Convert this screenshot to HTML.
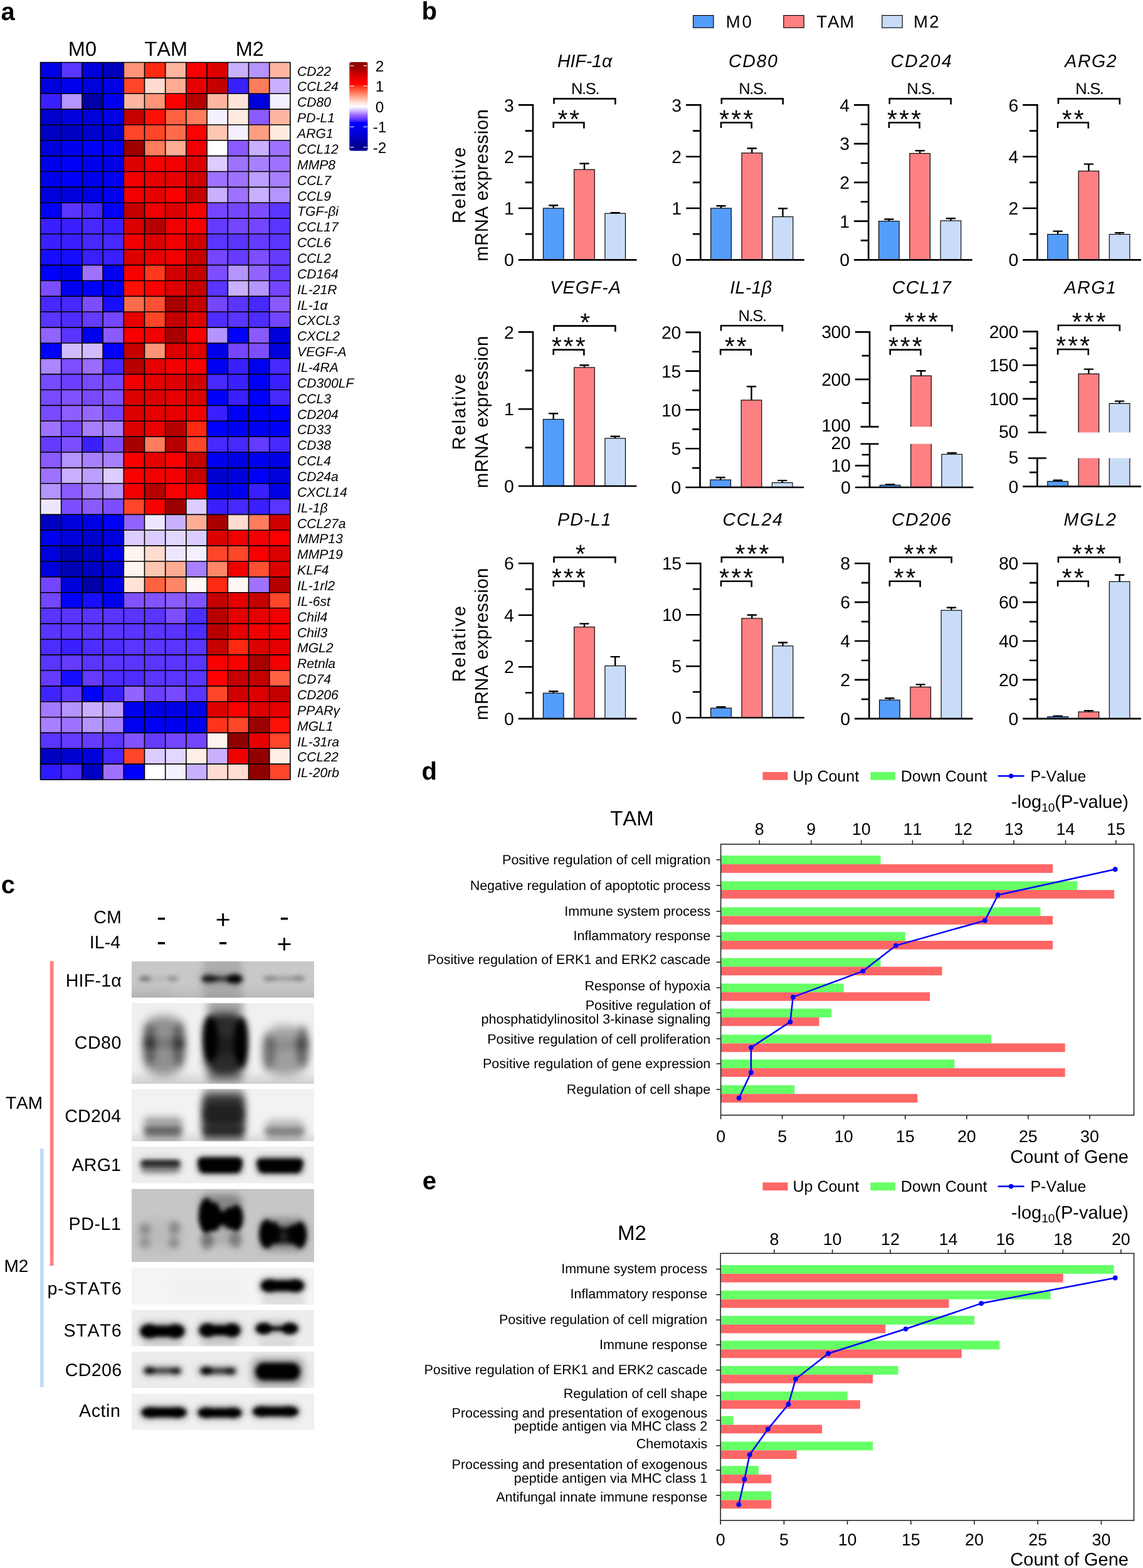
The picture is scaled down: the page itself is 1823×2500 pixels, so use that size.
<!DOCTYPE html>
<html lang="en">
<head>
<meta charset="utf-8">
<title>Figure</title>
<style>
html,body{margin:0;padding:0;background:#fff;}
body{width:1823px;height:2500px;overflow:hidden;}
svg{display:block;font-family:"Liberation Sans", sans-serif;fill:#000;font-kerning:none;text-rendering:geometricPrecision;}
</style>
</head>
<body>
<svg width="1823" height="2500" viewBox="0 0 1823 2500">
<rect x="0" y="0" width="1823" height="2500" fill="#fff"/>
<g id="panel-a">
<text x="1.6" y="32.3" font-size="40" font-weight="bold">a</text>
<text x="131.4" y="89" font-size="32.5" text-anchor="middle">M0</text>
<text x="264.8" y="89" font-size="32.5" text-anchor="middle">TAM</text>
<text x="398.3" y="89" font-size="32.5" text-anchor="middle">M2</text>
<g shape-rendering="crispEdges">
<rect x="64.5" y="99.5" width="33.7" height="25.36" fill="#0000e6"/>
<rect x="97.7" y="99.5" width="33.7" height="25.36" fill="#5a34ff"/>
<rect x="130.9" y="99.5" width="33.7" height="25.36" fill="#0000dc"/>
<rect x="164.1" y="99.5" width="33.7" height="25.36" fill="#0000bc"/>
<rect x="197.3" y="99.5" width="33.7" height="25.36" fill="#ff9478"/>
<rect x="230.5" y="99.5" width="33.7" height="25.36" fill="#ff2810"/>
<rect x="263.7" y="99.5" width="33.7" height="25.36" fill="#ffb6a0"/>
<rect x="296.9" y="99.5" width="33.7" height="25.36" fill="#f80000"/>
<rect x="330.1" y="99.5" width="33.7" height="25.36" fill="#dc0000"/>
<rect x="363.3" y="99.5" width="33.7" height="25.36" fill="#c8b0ff"/>
<rect x="396.5" y="99.5" width="33.7" height="25.36" fill="#b494ff"/>
<rect x="429.7" y="99.5" width="33.7" height="25.36" fill="#ffb6a0"/>
<rect x="64.5" y="124.36" width="33.7" height="25.36" fill="#0000dc"/>
<rect x="97.7" y="124.36" width="33.7" height="25.36" fill="#0000f0"/>
<rect x="130.9" y="124.36" width="33.7" height="25.36" fill="#0000dc"/>
<rect x="164.1" y="124.36" width="33.7" height="25.36" fill="#0000e6"/>
<rect x="197.3" y="124.36" width="33.7" height="25.36" fill="#ff4628"/>
<rect x="230.5" y="124.36" width="33.7" height="25.36" fill="#ffdccf"/>
<rect x="263.7" y="124.36" width="33.7" height="25.36" fill="#ffac94"/>
<rect x="296.9" y="124.36" width="33.7" height="25.36" fill="#e60000"/>
<rect x="330.1" y="124.36" width="33.7" height="25.36" fill="#c40000"/>
<rect x="363.3" y="124.36" width="33.7" height="25.36" fill="#3a20ff"/>
<rect x="396.5" y="124.36" width="33.7" height="25.36" fill="#ff7c5c"/>
<rect x="429.7" y="124.36" width="33.7" height="25.36" fill="#c8b0ff"/>
<rect x="64.5" y="149.22" width="33.7" height="25.36" fill="#3a20ff"/>
<rect x="97.7" y="149.22" width="33.7" height="25.36" fill="#b494ff"/>
<rect x="130.9" y="149.22" width="33.7" height="25.36" fill="#0000a6"/>
<rect x="164.1" y="149.22" width="33.7" height="25.36" fill="#0000f0"/>
<rect x="197.3" y="149.22" width="33.7" height="25.36" fill="#ffb6a0"/>
<rect x="230.5" y="149.22" width="33.7" height="25.36" fill="#ff9478"/>
<rect x="263.7" y="149.22" width="33.7" height="25.36" fill="#f80000"/>
<rect x="296.9" y="149.22" width="33.7" height="25.36" fill="#b60000"/>
<rect x="330.1" y="149.22" width="33.7" height="25.36" fill="#ffb6a0"/>
<rect x="363.3" y="149.22" width="33.7" height="25.36" fill="#ffe3d8"/>
<rect x="396.5" y="149.22" width="33.7" height="25.36" fill="#0000dc"/>
<rect x="429.7" y="149.22" width="33.7" height="25.36" fill="#f5f0ff"/>
<rect x="64.5" y="174.08" width="33.7" height="25.36" fill="#0000cf"/>
<rect x="97.7" y="174.08" width="33.7" height="25.36" fill="#0000dc"/>
<rect x="130.9" y="174.08" width="33.7" height="25.36" fill="#0000dc"/>
<rect x="164.1" y="174.08" width="33.7" height="25.36" fill="#0000e6"/>
<rect x="197.3" y="174.08" width="33.7" height="25.36" fill="#c40000"/>
<rect x="230.5" y="174.08" width="33.7" height="25.36" fill="#ff1006"/>
<rect x="263.7" y="174.08" width="33.7" height="25.36" fill="#ff6242"/>
<rect x="296.9" y="174.08" width="33.7" height="25.36" fill="#ff7c5c"/>
<rect x="330.1" y="174.08" width="33.7" height="25.36" fill="#f5f0ff"/>
<rect x="363.3" y="174.08" width="33.7" height="25.36" fill="#ffeae1"/>
<rect x="396.5" y="174.08" width="33.7" height="25.36" fill="#8a5aff"/>
<rect x="429.7" y="174.08" width="33.7" height="25.36" fill="#ffb6a0"/>
<rect x="64.5" y="198.93" width="33.7" height="25.36" fill="#0000c2"/>
<rect x="97.7" y="198.93" width="33.7" height="25.36" fill="#0000c2"/>
<rect x="130.9" y="198.93" width="33.7" height="25.36" fill="#0000cf"/>
<rect x="164.1" y="198.93" width="33.7" height="25.36" fill="#0000cf"/>
<rect x="197.3" y="198.93" width="33.7" height="25.36" fill="#ff4628"/>
<rect x="230.5" y="198.93" width="33.7" height="25.36" fill="#ff4628"/>
<rect x="263.7" y="198.93" width="33.7" height="25.36" fill="#ff6c4c"/>
<rect x="296.9" y="198.93" width="33.7" height="25.36" fill="#ff0000"/>
<rect x="330.1" y="198.93" width="33.7" height="25.36" fill="#ffc6b2"/>
<rect x="363.3" y="198.93" width="33.7" height="25.36" fill="#f5f0ff"/>
<rect x="396.5" y="198.93" width="33.7" height="25.36" fill="#ff9e83"/>
<rect x="429.7" y="198.93" width="33.7" height="25.36" fill="#ffeae1"/>
<rect x="64.5" y="223.79" width="33.7" height="25.36" fill="#0000dc"/>
<rect x="97.7" y="223.79" width="33.7" height="25.36" fill="#0000f0"/>
<rect x="130.9" y="223.79" width="33.7" height="25.36" fill="#0000ff"/>
<rect x="164.1" y="223.79" width="33.7" height="25.36" fill="#0000f0"/>
<rect x="197.3" y="223.79" width="33.7" height="25.36" fill="#9c0000"/>
<rect x="230.5" y="223.79" width="33.7" height="25.36" fill="#ff7c5c"/>
<rect x="263.7" y="223.79" width="33.7" height="25.36" fill="#ffac94"/>
<rect x="296.9" y="223.79" width="33.7" height="25.36" fill="#f00000"/>
<rect x="330.1" y="223.79" width="33.7" height="25.36" fill="#ffffff"/>
<rect x="363.3" y="223.79" width="33.7" height="25.36" fill="#8a5aff"/>
<rect x="396.5" y="223.79" width="33.7" height="25.36" fill="#c8b0ff"/>
<rect x="429.7" y="223.79" width="33.7" height="25.36" fill="#9e72ff"/>
<rect x="64.5" y="248.65" width="33.7" height="25.36" fill="#0000f0"/>
<rect x="97.7" y="248.65" width="33.7" height="25.36" fill="#0000f8"/>
<rect x="130.9" y="248.65" width="33.7" height="25.36" fill="#0000f0"/>
<rect x="164.1" y="248.65" width="33.7" height="25.36" fill="#0000e6"/>
<rect x="197.3" y="248.65" width="33.7" height="25.36" fill="#dc0000"/>
<rect x="230.5" y="248.65" width="33.7" height="25.36" fill="#f80000"/>
<rect x="263.7" y="248.65" width="33.7" height="25.36" fill="#f00000"/>
<rect x="296.9" y="248.65" width="33.7" height="25.36" fill="#dc0000"/>
<rect x="330.1" y="248.65" width="33.7" height="25.36" fill="#dcccff"/>
<rect x="363.3" y="248.65" width="33.7" height="25.36" fill="#9e72ff"/>
<rect x="396.5" y="248.65" width="33.7" height="25.36" fill="#a780ff"/>
<rect x="429.7" y="248.65" width="33.7" height="25.36" fill="#9e72ff"/>
<rect x="64.5" y="273.51" width="33.7" height="25.36" fill="#0000f0"/>
<rect x="97.7" y="273.51" width="33.7" height="25.36" fill="#0000f8"/>
<rect x="130.9" y="273.51" width="33.7" height="25.36" fill="#0000f0"/>
<rect x="164.1" y="273.51" width="33.7" height="25.36" fill="#0000f0"/>
<rect x="197.3" y="273.51" width="33.7" height="25.36" fill="#f00000"/>
<rect x="230.5" y="273.51" width="33.7" height="25.36" fill="#e60000"/>
<rect x="263.7" y="273.51" width="33.7" height="25.36" fill="#e60000"/>
<rect x="296.9" y="273.51" width="33.7" height="25.36" fill="#d00000"/>
<rect x="330.1" y="273.51" width="33.7" height="25.36" fill="#9e72ff"/>
<rect x="363.3" y="273.51" width="33.7" height="25.36" fill="#9e72ff"/>
<rect x="396.5" y="273.51" width="33.7" height="25.36" fill="#bc9fff"/>
<rect x="429.7" y="273.51" width="33.7" height="25.36" fill="#a780ff"/>
<rect x="64.5" y="298.37" width="33.7" height="25.36" fill="#0000dc"/>
<rect x="97.7" y="298.37" width="33.7" height="25.36" fill="#0000dc"/>
<rect x="130.9" y="298.37" width="33.7" height="25.36" fill="#0000e6"/>
<rect x="164.1" y="298.37" width="33.7" height="25.36" fill="#0000f0"/>
<rect x="197.3" y="298.37" width="33.7" height="25.36" fill="#f00000"/>
<rect x="230.5" y="298.37" width="33.7" height="25.36" fill="#e60000"/>
<rect x="263.7" y="298.37" width="33.7" height="25.36" fill="#f80000"/>
<rect x="296.9" y="298.37" width="33.7" height="25.36" fill="#c40000"/>
<rect x="330.1" y="298.37" width="33.7" height="25.36" fill="#c8b0ff"/>
<rect x="363.3" y="298.37" width="33.7" height="25.36" fill="#9e72ff"/>
<rect x="396.5" y="298.37" width="33.7" height="25.36" fill="#c8b0ff"/>
<rect x="429.7" y="298.37" width="33.7" height="25.36" fill="#b494ff"/>
<rect x="64.5" y="323.23" width="33.7" height="25.36" fill="#0000f8"/>
<rect x="97.7" y="323.23" width="33.7" height="25.36" fill="#5a34ff"/>
<rect x="130.9" y="323.23" width="33.7" height="25.36" fill="#4728ff"/>
<rect x="164.1" y="323.23" width="33.7" height="25.36" fill="#0000f8"/>
<rect x="197.3" y="323.23" width="33.7" height="25.36" fill="#c40000"/>
<rect x="230.5" y="323.23" width="33.7" height="25.36" fill="#f00000"/>
<rect x="263.7" y="323.23" width="33.7" height="25.36" fill="#dc0000"/>
<rect x="296.9" y="323.23" width="33.7" height="25.36" fill="#f80000"/>
<rect x="330.1" y="323.23" width="33.7" height="25.36" fill="#7446ff"/>
<rect x="363.3" y="323.23" width="33.7" height="25.36" fill="#7446ff"/>
<rect x="396.5" y="323.23" width="33.7" height="25.36" fill="#7d4eff"/>
<rect x="429.7" y="323.23" width="33.7" height="25.36" fill="#5a34ff"/>
<rect x="64.5" y="348.09" width="33.7" height="25.36" fill="#3a20ff"/>
<rect x="97.7" y="348.09" width="33.7" height="25.36" fill="#3a20ff"/>
<rect x="130.9" y="348.09" width="33.7" height="25.36" fill="#4728ff"/>
<rect x="164.1" y="348.09" width="33.7" height="25.36" fill="#3a20ff"/>
<rect x="197.3" y="348.09" width="33.7" height="25.36" fill="#dc0000"/>
<rect x="230.5" y="348.09" width="33.7" height="25.36" fill="#b60000"/>
<rect x="263.7" y="348.09" width="33.7" height="25.36" fill="#f00000"/>
<rect x="296.9" y="348.09" width="33.7" height="25.36" fill="#f80000"/>
<rect x="330.1" y="348.09" width="33.7" height="25.36" fill="#643bff"/>
<rect x="363.3" y="348.09" width="33.7" height="25.36" fill="#7446ff"/>
<rect x="396.5" y="348.09" width="33.7" height="25.36" fill="#7446ff"/>
<rect x="429.7" y="348.09" width="33.7" height="25.36" fill="#5a34ff"/>
<rect x="64.5" y="372.95" width="33.7" height="25.36" fill="#3a20ff"/>
<rect x="97.7" y="372.95" width="33.7" height="25.36" fill="#3a20ff"/>
<rect x="130.9" y="372.95" width="33.7" height="25.36" fill="#4728ff"/>
<rect x="164.1" y="372.95" width="33.7" height="25.36" fill="#4728ff"/>
<rect x="197.3" y="372.95" width="33.7" height="25.36" fill="#f00000"/>
<rect x="230.5" y="372.95" width="33.7" height="25.36" fill="#dc0000"/>
<rect x="263.7" y="372.95" width="33.7" height="25.36" fill="#f00000"/>
<rect x="296.9" y="372.95" width="33.7" height="25.36" fill="#d00000"/>
<rect x="330.1" y="372.95" width="33.7" height="25.36" fill="#5a34ff"/>
<rect x="363.3" y="372.95" width="33.7" height="25.36" fill="#5a34ff"/>
<rect x="396.5" y="372.95" width="33.7" height="25.36" fill="#643bff"/>
<rect x="429.7" y="372.95" width="33.7" height="25.36" fill="#5a34ff"/>
<rect x="64.5" y="397.8" width="33.7" height="25.36" fill="#170dff"/>
<rect x="97.7" y="397.8" width="33.7" height="25.36" fill="#170dff"/>
<rect x="130.9" y="397.8" width="33.7" height="25.36" fill="#3a20ff"/>
<rect x="164.1" y="397.8" width="33.7" height="25.36" fill="#3a20ff"/>
<rect x="197.3" y="397.8" width="33.7" height="25.36" fill="#dc0000"/>
<rect x="230.5" y="397.8" width="33.7" height="25.36" fill="#e60000"/>
<rect x="263.7" y="397.8" width="33.7" height="25.36" fill="#f00000"/>
<rect x="296.9" y="397.8" width="33.7" height="25.36" fill="#c40000"/>
<rect x="330.1" y="397.8" width="33.7" height="25.36" fill="#7446ff"/>
<rect x="363.3" y="397.8" width="33.7" height="25.36" fill="#643bff"/>
<rect x="396.5" y="397.8" width="33.7" height="25.36" fill="#7d4eff"/>
<rect x="429.7" y="397.8" width="33.7" height="25.36" fill="#643bff"/>
<rect x="64.5" y="422.66" width="33.7" height="25.36" fill="#0000ff"/>
<rect x="97.7" y="422.66" width="33.7" height="25.36" fill="#0000f0"/>
<rect x="130.9" y="422.66" width="33.7" height="25.36" fill="#9e72ff"/>
<rect x="164.1" y="422.66" width="33.7" height="25.36" fill="#0000f0"/>
<rect x="197.3" y="422.66" width="33.7" height="25.36" fill="#f80000"/>
<rect x="230.5" y="422.66" width="33.7" height="25.36" fill="#ff3a1e"/>
<rect x="263.7" y="422.66" width="33.7" height="25.36" fill="#d00000"/>
<rect x="296.9" y="422.66" width="33.7" height="25.36" fill="#c40000"/>
<rect x="330.1" y="422.66" width="33.7" height="25.36" fill="#7d4eff"/>
<rect x="363.3" y="422.66" width="33.7" height="25.36" fill="#b494ff"/>
<rect x="396.5" y="422.66" width="33.7" height="25.36" fill="#9264ff"/>
<rect x="429.7" y="422.66" width="33.7" height="25.36" fill="#643bff"/>
<rect x="64.5" y="447.52" width="33.7" height="25.36" fill="#7d4eff"/>
<rect x="97.7" y="447.52" width="33.7" height="25.36" fill="#0000f0"/>
<rect x="130.9" y="447.52" width="33.7" height="25.36" fill="#0000ff"/>
<rect x="164.1" y="447.52" width="33.7" height="25.36" fill="#0000f0"/>
<rect x="197.3" y="447.52" width="33.7" height="25.36" fill="#ff1006"/>
<rect x="230.5" y="447.52" width="33.7" height="25.36" fill="#fc0000"/>
<rect x="263.7" y="447.52" width="33.7" height="25.36" fill="#dc0000"/>
<rect x="296.9" y="447.52" width="33.7" height="25.36" fill="#c40000"/>
<rect x="330.1" y="447.52" width="33.7" height="25.36" fill="#5a34ff"/>
<rect x="363.3" y="447.52" width="33.7" height="25.36" fill="#c8b0ff"/>
<rect x="396.5" y="447.52" width="33.7" height="25.36" fill="#b494ff"/>
<rect x="429.7" y="447.52" width="33.7" height="25.36" fill="#7446ff"/>
<rect x="64.5" y="472.38" width="33.7" height="25.36" fill="#4728ff"/>
<rect x="97.7" y="472.38" width="33.7" height="25.36" fill="#4728ff"/>
<rect x="130.9" y="472.38" width="33.7" height="25.36" fill="#7d4eff"/>
<rect x="164.1" y="472.38" width="33.7" height="25.36" fill="#170dff"/>
<rect x="197.3" y="472.38" width="33.7" height="25.36" fill="#ff6c4c"/>
<rect x="230.5" y="472.38" width="33.7" height="25.36" fill="#ff5132"/>
<rect x="263.7" y="472.38" width="33.7" height="25.36" fill="#a80000"/>
<rect x="296.9" y="472.38" width="33.7" height="25.36" fill="#c40000"/>
<rect x="330.1" y="472.38" width="33.7" height="25.36" fill="#7446ff"/>
<rect x="363.3" y="472.38" width="33.7" height="25.36" fill="#5a34ff"/>
<rect x="396.5" y="472.38" width="33.7" height="25.36" fill="#4728ff"/>
<rect x="429.7" y="472.38" width="33.7" height="25.36" fill="#8a5aff"/>
<rect x="64.5" y="497.24" width="33.7" height="25.36" fill="#5a34ff"/>
<rect x="97.7" y="497.24" width="33.7" height="25.36" fill="#4d2cff"/>
<rect x="130.9" y="497.24" width="33.7" height="25.36" fill="#643bff"/>
<rect x="164.1" y="497.24" width="33.7" height="25.36" fill="#7446ff"/>
<rect x="197.3" y="497.24" width="33.7" height="25.36" fill="#e60000"/>
<rect x="230.5" y="497.24" width="33.7" height="25.36" fill="#ff4628"/>
<rect x="263.7" y="497.24" width="33.7" height="25.36" fill="#c40000"/>
<rect x="296.9" y="497.24" width="33.7" height="25.36" fill="#dc0000"/>
<rect x="330.1" y="497.24" width="33.7" height="25.36" fill="#4d2cff"/>
<rect x="363.3" y="497.24" width="33.7" height="25.36" fill="#5a34ff"/>
<rect x="396.5" y="497.24" width="33.7" height="25.36" fill="#4d2cff"/>
<rect x="429.7" y="497.24" width="33.7" height="25.36" fill="#7446ff"/>
<rect x="64.5" y="522.1" width="33.7" height="25.36" fill="#9264ff"/>
<rect x="97.7" y="522.1" width="33.7" height="25.36" fill="#5a34ff"/>
<rect x="130.9" y="522.1" width="33.7" height="25.36" fill="#0000f0"/>
<rect x="164.1" y="522.1" width="33.7" height="25.36" fill="#8a5aff"/>
<rect x="197.3" y="522.1" width="33.7" height="25.36" fill="#f80000"/>
<rect x="230.5" y="522.1" width="33.7" height="25.36" fill="#f30000"/>
<rect x="263.7" y="522.1" width="33.7" height="25.36" fill="#a80000"/>
<rect x="296.9" y="522.1" width="33.7" height="25.36" fill="#fc0000"/>
<rect x="330.1" y="522.1" width="33.7" height="25.36" fill="#b494ff"/>
<rect x="363.3" y="522.1" width="33.7" height="25.36" fill="#0000ff"/>
<rect x="396.5" y="522.1" width="33.7" height="25.36" fill="#8a5aff"/>
<rect x="429.7" y="522.1" width="33.7" height="25.36" fill="#0000dc"/>
<rect x="64.5" y="546.96" width="33.7" height="25.36" fill="#0000fc"/>
<rect x="97.7" y="546.96" width="33.7" height="25.36" fill="#d0bbff"/>
<rect x="130.9" y="546.96" width="33.7" height="25.36" fill="#d0bbff"/>
<rect x="164.1" y="546.96" width="33.7" height="25.36" fill="#0000fc"/>
<rect x="197.3" y="546.96" width="33.7" height="25.36" fill="#c40000"/>
<rect x="230.5" y="546.96" width="33.7" height="25.36" fill="#ff9478"/>
<rect x="263.7" y="546.96" width="33.7" height="25.36" fill="#dc0000"/>
<rect x="296.9" y="546.96" width="33.7" height="25.36" fill="#e00000"/>
<rect x="330.1" y="546.96" width="33.7" height="25.36" fill="#0000e6"/>
<rect x="363.3" y="546.96" width="33.7" height="25.36" fill="#7446ff"/>
<rect x="396.5" y="546.96" width="33.7" height="25.36" fill="#7d4eff"/>
<rect x="429.7" y="546.96" width="33.7" height="25.36" fill="#0000dc"/>
<rect x="64.5" y="571.82" width="33.7" height="25.36" fill="#ab86ff"/>
<rect x="97.7" y="571.82" width="33.7" height="25.36" fill="#7d4eff"/>
<rect x="130.9" y="571.82" width="33.7" height="25.36" fill="#9a6dff"/>
<rect x="164.1" y="571.82" width="33.7" height="25.36" fill="#4728ff"/>
<rect x="197.3" y="571.82" width="33.7" height="25.36" fill="#b60000"/>
<rect x="230.5" y="571.82" width="33.7" height="25.36" fill="#e60000"/>
<rect x="263.7" y="571.82" width="33.7" height="25.36" fill="#f30000"/>
<rect x="296.9" y="571.82" width="33.7" height="25.36" fill="#f80000"/>
<rect x="330.1" y="571.82" width="33.7" height="25.36" fill="#0000f0"/>
<rect x="363.3" y="571.82" width="33.7" height="25.36" fill="#3a20ff"/>
<rect x="396.5" y="571.82" width="33.7" height="25.36" fill="#0000f0"/>
<rect x="429.7" y="571.82" width="33.7" height="25.36" fill="#4728ff"/>
<rect x="64.5" y="596.67" width="33.7" height="25.36" fill="#784aff"/>
<rect x="97.7" y="596.67" width="33.7" height="25.36" fill="#6a3fff"/>
<rect x="130.9" y="596.67" width="33.7" height="25.36" fill="#784aff"/>
<rect x="164.1" y="596.67" width="33.7" height="25.36" fill="#7446ff"/>
<rect x="197.3" y="596.67" width="33.7" height="25.36" fill="#f00000"/>
<rect x="230.5" y="596.67" width="33.7" height="25.36" fill="#e60000"/>
<rect x="263.7" y="596.67" width="33.7" height="25.36" fill="#dc0000"/>
<rect x="296.9" y="596.67" width="33.7" height="25.36" fill="#d00000"/>
<rect x="330.1" y="596.67" width="33.7" height="25.36" fill="#4728ff"/>
<rect x="363.3" y="596.67" width="33.7" height="25.36" fill="#3a20ff"/>
<rect x="396.5" y="596.67" width="33.7" height="25.36" fill="#0000f8"/>
<rect x="429.7" y="596.67" width="33.7" height="25.36" fill="#3a20ff"/>
<rect x="64.5" y="621.53" width="33.7" height="25.36" fill="#784aff"/>
<rect x="97.7" y="621.53" width="33.7" height="25.36" fill="#8152ff"/>
<rect x="130.9" y="621.53" width="33.7" height="25.36" fill="#784aff"/>
<rect x="164.1" y="621.53" width="33.7" height="25.36" fill="#8152ff"/>
<rect x="197.3" y="621.53" width="33.7" height="25.36" fill="#dc0000"/>
<rect x="230.5" y="621.53" width="33.7" height="25.36" fill="#dc0000"/>
<rect x="263.7" y="621.53" width="33.7" height="25.36" fill="#e60000"/>
<rect x="296.9" y="621.53" width="33.7" height="25.36" fill="#dc0000"/>
<rect x="330.1" y="621.53" width="33.7" height="25.36" fill="#0000f8"/>
<rect x="363.3" y="621.53" width="33.7" height="25.36" fill="#3a20ff"/>
<rect x="396.5" y="621.53" width="33.7" height="25.36" fill="#0000fc"/>
<rect x="429.7" y="621.53" width="33.7" height="25.36" fill="#4728ff"/>
<rect x="64.5" y="646.39" width="33.7" height="25.36" fill="#784aff"/>
<rect x="97.7" y="646.39" width="33.7" height="25.36" fill="#8e5fff"/>
<rect x="130.9" y="646.39" width="33.7" height="25.36" fill="#9668ff"/>
<rect x="164.1" y="646.39" width="33.7" height="25.36" fill="#7446ff"/>
<rect x="197.3" y="646.39" width="33.7" height="25.36" fill="#dc0000"/>
<rect x="230.5" y="646.39" width="33.7" height="25.36" fill="#e60000"/>
<rect x="263.7" y="646.39" width="33.7" height="25.36" fill="#e60000"/>
<rect x="296.9" y="646.39" width="33.7" height="25.36" fill="#f00000"/>
<rect x="330.1" y="646.39" width="33.7" height="25.36" fill="#3a20ff"/>
<rect x="363.3" y="646.39" width="33.7" height="25.36" fill="#0000f8"/>
<rect x="396.5" y="646.39" width="33.7" height="25.36" fill="#0000f8"/>
<rect x="429.7" y="646.39" width="33.7" height="25.36" fill="#0000ff"/>
<rect x="64.5" y="671.25" width="33.7" height="25.36" fill="#9e72ff"/>
<rect x="97.7" y="671.25" width="33.7" height="25.36" fill="#784aff"/>
<rect x="130.9" y="671.25" width="33.7" height="25.36" fill="#a780ff"/>
<rect x="164.1" y="671.25" width="33.7" height="25.36" fill="#a780ff"/>
<rect x="197.3" y="671.25" width="33.7" height="25.36" fill="#dc0000"/>
<rect x="230.5" y="671.25" width="33.7" height="25.36" fill="#ec0000"/>
<rect x="263.7" y="671.25" width="33.7" height="25.36" fill="#b60000"/>
<rect x="296.9" y="671.25" width="33.7" height="25.36" fill="#ff2810"/>
<rect x="330.1" y="671.25" width="33.7" height="25.36" fill="#0000ff"/>
<rect x="363.3" y="671.25" width="33.7" height="25.36" fill="#0000f8"/>
<rect x="396.5" y="671.25" width="33.7" height="25.36" fill="#0000f3"/>
<rect x="429.7" y="671.25" width="33.7" height="25.36" fill="#0000f8"/>
<rect x="64.5" y="696.11" width="33.7" height="25.36" fill="#643bff"/>
<rect x="97.7" y="696.11" width="33.7" height="25.36" fill="#7d4eff"/>
<rect x="130.9" y="696.11" width="33.7" height="25.36" fill="#3a20ff"/>
<rect x="164.1" y="696.11" width="33.7" height="25.36" fill="#7d4eff"/>
<rect x="197.3" y="696.11" width="33.7" height="25.36" fill="#a80000"/>
<rect x="230.5" y="696.11" width="33.7" height="25.36" fill="#ff7c5c"/>
<rect x="263.7" y="696.11" width="33.7" height="25.36" fill="#b60000"/>
<rect x="296.9" y="696.11" width="33.7" height="25.36" fill="#ff4628"/>
<rect x="330.1" y="696.11" width="33.7" height="25.36" fill="#4728ff"/>
<rect x="363.3" y="696.11" width="33.7" height="25.36" fill="#4728ff"/>
<rect x="396.5" y="696.11" width="33.7" height="25.36" fill="#643bff"/>
<rect x="429.7" y="696.11" width="33.7" height="25.36" fill="#4728ff"/>
<rect x="64.5" y="720.97" width="33.7" height="25.36" fill="#8a5aff"/>
<rect x="97.7" y="720.97" width="33.7" height="25.36" fill="#b494ff"/>
<rect x="130.9" y="720.97" width="33.7" height="25.36" fill="#a780ff"/>
<rect x="164.1" y="720.97" width="33.7" height="25.36" fill="#a780ff"/>
<rect x="197.3" y="720.97" width="33.7" height="25.36" fill="#f80000"/>
<rect x="230.5" y="720.97" width="33.7" height="25.36" fill="#e60000"/>
<rect x="263.7" y="720.97" width="33.7" height="25.36" fill="#f80000"/>
<rect x="296.9" y="720.97" width="33.7" height="25.36" fill="#c40000"/>
<rect x="330.1" y="720.97" width="33.7" height="25.36" fill="#0000f0"/>
<rect x="363.3" y="720.97" width="33.7" height="25.36" fill="#0000e6"/>
<rect x="396.5" y="720.97" width="33.7" height="25.36" fill="#0000f0"/>
<rect x="429.7" y="720.97" width="33.7" height="25.36" fill="#0000e6"/>
<rect x="64.5" y="745.83" width="33.7" height="25.36" fill="#9e72ff"/>
<rect x="97.7" y="745.83" width="33.7" height="25.36" fill="#c8b0ff"/>
<rect x="130.9" y="745.83" width="33.7" height="25.36" fill="#bc9fff"/>
<rect x="164.1" y="745.83" width="33.7" height="25.36" fill="#dcccff"/>
<rect x="197.3" y="745.83" width="33.7" height="25.36" fill="#f80000"/>
<rect x="230.5" y="745.83" width="33.7" height="25.36" fill="#f30000"/>
<rect x="263.7" y="745.83" width="33.7" height="25.36" fill="#f30000"/>
<rect x="296.9" y="745.83" width="33.7" height="25.36" fill="#c40000"/>
<rect x="330.1" y="745.83" width="33.7" height="25.36" fill="#0000cf"/>
<rect x="363.3" y="745.83" width="33.7" height="25.36" fill="#0000dc"/>
<rect x="396.5" y="745.83" width="33.7" height="25.36" fill="#0000f8"/>
<rect x="429.7" y="745.83" width="33.7" height="25.36" fill="#0000dc"/>
<rect x="64.5" y="770.68" width="33.7" height="25.36" fill="#b494ff"/>
<rect x="97.7" y="770.68" width="33.7" height="25.36" fill="#8a5aff"/>
<rect x="130.9" y="770.68" width="33.7" height="25.36" fill="#a780ff"/>
<rect x="164.1" y="770.68" width="33.7" height="25.36" fill="#b494ff"/>
<rect x="197.3" y="770.68" width="33.7" height="25.36" fill="#f00000"/>
<rect x="230.5" y="770.68" width="33.7" height="25.36" fill="#b60000"/>
<rect x="263.7" y="770.68" width="33.7" height="25.36" fill="#f80000"/>
<rect x="296.9" y="770.68" width="33.7" height="25.36" fill="#fc0000"/>
<rect x="330.1" y="770.68" width="33.7" height="25.36" fill="#0000e6"/>
<rect x="363.3" y="770.68" width="33.7" height="25.36" fill="#0000f0"/>
<rect x="396.5" y="770.68" width="33.7" height="25.36" fill="#3a20ff"/>
<rect x="429.7" y="770.68" width="33.7" height="25.36" fill="#0000e6"/>
<rect x="64.5" y="795.54" width="33.7" height="25.36" fill="#eee6ff"/>
<rect x="97.7" y="795.54" width="33.7" height="25.36" fill="#7d4eff"/>
<rect x="130.9" y="795.54" width="33.7" height="25.36" fill="#8a5aff"/>
<rect x="164.1" y="795.54" width="33.7" height="25.36" fill="#7d4eff"/>
<rect x="197.3" y="795.54" width="33.7" height="25.36" fill="#ff4628"/>
<rect x="230.5" y="795.54" width="33.7" height="25.36" fill="#fc0000"/>
<rect x="263.7" y="795.54" width="33.7" height="25.36" fill="#9c0000"/>
<rect x="296.9" y="795.54" width="33.7" height="25.36" fill="#dcccff"/>
<rect x="330.1" y="795.54" width="33.7" height="25.36" fill="#3a20ff"/>
<rect x="363.3" y="795.54" width="33.7" height="25.36" fill="#4728ff"/>
<rect x="396.5" y="795.54" width="33.7" height="25.36" fill="#3a20ff"/>
<rect x="429.7" y="795.54" width="33.7" height="25.36" fill="#5a34ff"/>
<rect x="64.5" y="820.4" width="33.7" height="25.36" fill="#0000c2"/>
<rect x="97.7" y="820.4" width="33.7" height="25.36" fill="#0000dc"/>
<rect x="130.9" y="820.4" width="33.7" height="25.36" fill="#0000e6"/>
<rect x="164.1" y="820.4" width="33.7" height="25.36" fill="#0000f8"/>
<rect x="197.3" y="820.4" width="33.7" height="25.36" fill="#9264ff"/>
<rect x="230.5" y="820.4" width="33.7" height="25.36" fill="#eee6ff"/>
<rect x="263.7" y="820.4" width="33.7" height="25.36" fill="#c8b0ff"/>
<rect x="296.9" y="820.4" width="33.7" height="25.36" fill="#ffac94"/>
<rect x="330.1" y="820.4" width="33.7" height="25.36" fill="#a80000"/>
<rect x="363.3" y="820.4" width="33.7" height="25.36" fill="#ffdccf"/>
<rect x="396.5" y="820.4" width="33.7" height="25.36" fill="#ff7c5c"/>
<rect x="429.7" y="820.4" width="33.7" height="25.36" fill="#d00000"/>
<rect x="64.5" y="845.26" width="33.7" height="25.36" fill="#0000f0"/>
<rect x="97.7" y="845.26" width="33.7" height="25.36" fill="#0000dc"/>
<rect x="130.9" y="845.26" width="33.7" height="25.36" fill="#0000cf"/>
<rect x="164.1" y="845.26" width="33.7" height="25.36" fill="#0000dc"/>
<rect x="197.3" y="845.26" width="33.7" height="25.36" fill="#dcccff"/>
<rect x="230.5" y="845.26" width="33.7" height="25.36" fill="#dcccff"/>
<rect x="263.7" y="845.26" width="33.7" height="25.36" fill="#e3d6ff"/>
<rect x="296.9" y="845.26" width="33.7" height="25.36" fill="#dcccff"/>
<rect x="330.1" y="845.26" width="33.7" height="25.36" fill="#dc0000"/>
<rect x="363.3" y="845.26" width="33.7" height="25.36" fill="#f00000"/>
<rect x="396.5" y="845.26" width="33.7" height="25.36" fill="#f00000"/>
<rect x="429.7" y="845.26" width="33.7" height="25.36" fill="#fc0000"/>
<rect x="64.5" y="870.12" width="33.7" height="25.36" fill="#0000dc"/>
<rect x="97.7" y="870.12" width="33.7" height="25.36" fill="#0000b4"/>
<rect x="130.9" y="870.12" width="33.7" height="25.36" fill="#0000c2"/>
<rect x="164.1" y="870.12" width="33.7" height="25.36" fill="#0000e6"/>
<rect x="197.3" y="870.12" width="33.7" height="25.36" fill="#fff5f0"/>
<rect x="230.5" y="870.12" width="33.7" height="25.36" fill="#ffdccf"/>
<rect x="263.7" y="870.12" width="33.7" height="25.36" fill="#eee6ff"/>
<rect x="296.9" y="870.12" width="33.7" height="25.36" fill="#f5f0ff"/>
<rect x="330.1" y="870.12" width="33.7" height="25.36" fill="#ff4628"/>
<rect x="363.3" y="870.12" width="33.7" height="25.36" fill="#ff4628"/>
<rect x="396.5" y="870.12" width="33.7" height="25.36" fill="#f80000"/>
<rect x="429.7" y="870.12" width="33.7" height="25.36" fill="#dc0000"/>
<rect x="64.5" y="894.98" width="33.7" height="25.36" fill="#0000dc"/>
<rect x="97.7" y="894.98" width="33.7" height="25.36" fill="#0000b4"/>
<rect x="130.9" y="894.98" width="33.7" height="25.36" fill="#0000c2"/>
<rect x="164.1" y="894.98" width="33.7" height="25.36" fill="#0000cf"/>
<rect x="197.3" y="894.98" width="33.7" height="25.36" fill="#fff5f0"/>
<rect x="230.5" y="894.98" width="33.7" height="25.36" fill="#ffc6b2"/>
<rect x="263.7" y="894.98" width="33.7" height="25.36" fill="#ffac94"/>
<rect x="296.9" y="894.98" width="33.7" height="25.36" fill="#a780ff"/>
<rect x="330.1" y="894.98" width="33.7" height="25.36" fill="#ff8667"/>
<rect x="363.3" y="894.98" width="33.7" height="25.36" fill="#f00000"/>
<rect x="396.5" y="894.98" width="33.7" height="25.36" fill="#ff5132"/>
<rect x="429.7" y="894.98" width="33.7" height="25.36" fill="#dc0000"/>
<rect x="64.5" y="919.84" width="33.7" height="25.36" fill="#7446ff"/>
<rect x="97.7" y="919.84" width="33.7" height="25.36" fill="#0000dc"/>
<rect x="130.9" y="919.84" width="33.7" height="25.36" fill="#0000a6"/>
<rect x="164.1" y="919.84" width="33.7" height="25.36" fill="#0000e6"/>
<rect x="197.3" y="919.84" width="33.7" height="25.36" fill="#ffe3d8"/>
<rect x="230.5" y="919.84" width="33.7" height="25.36" fill="#ff6242"/>
<rect x="263.7" y="919.84" width="33.7" height="25.36" fill="#ff8667"/>
<rect x="296.9" y="919.84" width="33.7" height="25.36" fill="#fff8f5"/>
<rect x="330.1" y="919.84" width="33.7" height="25.36" fill="#ff2810"/>
<rect x="363.3" y="919.84" width="33.7" height="25.36" fill="#fff8f5"/>
<rect x="396.5" y="919.84" width="33.7" height="25.36" fill="#9e72ff"/>
<rect x="429.7" y="919.84" width="33.7" height="25.36" fill="#b60000"/>
<rect x="64.5" y="944.7" width="33.7" height="25.36" fill="#7446ff"/>
<rect x="97.7" y="944.7" width="33.7" height="25.36" fill="#0000ff"/>
<rect x="130.9" y="944.7" width="33.7" height="25.36" fill="#170dff"/>
<rect x="164.1" y="944.7" width="33.7" height="25.36" fill="#0000f0"/>
<rect x="197.3" y="944.7" width="33.7" height="25.36" fill="#8152ff"/>
<rect x="230.5" y="944.7" width="33.7" height="25.36" fill="#8152ff"/>
<rect x="263.7" y="944.7" width="33.7" height="25.36" fill="#8a5aff"/>
<rect x="296.9" y="944.7" width="33.7" height="25.36" fill="#8152ff"/>
<rect x="330.1" y="944.7" width="33.7" height="25.36" fill="#c40000"/>
<rect x="363.3" y="944.7" width="33.7" height="25.36" fill="#e60000"/>
<rect x="396.5" y="944.7" width="33.7" height="25.36" fill="#c40000"/>
<rect x="429.7" y="944.7" width="33.7" height="25.36" fill="#ff4628"/>
<rect x="64.5" y="969.55" width="33.7" height="25.36" fill="#5a34ff"/>
<rect x="97.7" y="969.55" width="33.7" height="25.36" fill="#5a34ff"/>
<rect x="130.9" y="969.55" width="33.7" height="25.36" fill="#5a34ff"/>
<rect x="164.1" y="969.55" width="33.7" height="25.36" fill="#5a34ff"/>
<rect x="197.3" y="969.55" width="33.7" height="25.36" fill="#5a34ff"/>
<rect x="230.5" y="969.55" width="33.7" height="25.36" fill="#5a34ff"/>
<rect x="263.7" y="969.55" width="33.7" height="25.36" fill="#7d4eff"/>
<rect x="296.9" y="969.55" width="33.7" height="25.36" fill="#4d2cff"/>
<rect x="330.1" y="969.55" width="33.7" height="25.36" fill="#b60000"/>
<rect x="363.3" y="969.55" width="33.7" height="25.36" fill="#e60000"/>
<rect x="396.5" y="969.55" width="33.7" height="25.36" fill="#e60000"/>
<rect x="429.7" y="969.55" width="33.7" height="25.36" fill="#f00000"/>
<rect x="64.5" y="994.41" width="33.7" height="25.36" fill="#5a34ff"/>
<rect x="97.7" y="994.41" width="33.7" height="25.36" fill="#5a34ff"/>
<rect x="130.9" y="994.41" width="33.7" height="25.36" fill="#5a34ff"/>
<rect x="164.1" y="994.41" width="33.7" height="25.36" fill="#5a34ff"/>
<rect x="197.3" y="994.41" width="33.7" height="25.36" fill="#5a34ff"/>
<rect x="230.5" y="994.41" width="33.7" height="25.36" fill="#5a34ff"/>
<rect x="263.7" y="994.41" width="33.7" height="25.36" fill="#5a34ff"/>
<rect x="296.9" y="994.41" width="33.7" height="25.36" fill="#4d2cff"/>
<rect x="330.1" y="994.41" width="33.7" height="25.36" fill="#b60000"/>
<rect x="363.3" y="994.41" width="33.7" height="25.36" fill="#e60000"/>
<rect x="396.5" y="994.41" width="33.7" height="25.36" fill="#f00000"/>
<rect x="429.7" y="994.41" width="33.7" height="25.36" fill="#f00000"/>
<rect x="64.5" y="1019.27" width="33.7" height="25.36" fill="#4d2cff"/>
<rect x="97.7" y="1019.27" width="33.7" height="25.36" fill="#3a20ff"/>
<rect x="130.9" y="1019.27" width="33.7" height="25.36" fill="#4d2cff"/>
<rect x="164.1" y="1019.27" width="33.7" height="25.36" fill="#4d2cff"/>
<rect x="197.3" y="1019.27" width="33.7" height="25.36" fill="#5a34ff"/>
<rect x="230.5" y="1019.27" width="33.7" height="25.36" fill="#5a34ff"/>
<rect x="263.7" y="1019.27" width="33.7" height="25.36" fill="#5a34ff"/>
<rect x="296.9" y="1019.27" width="33.7" height="25.36" fill="#5a34ff"/>
<rect x="330.1" y="1019.27" width="33.7" height="25.36" fill="#c40000"/>
<rect x="363.3" y="1019.27" width="33.7" height="25.36" fill="#ff2810"/>
<rect x="396.5" y="1019.27" width="33.7" height="25.36" fill="#dc0000"/>
<rect x="429.7" y="1019.27" width="33.7" height="25.36" fill="#e60000"/>
<rect x="64.5" y="1044.13" width="33.7" height="25.36" fill="#5a34ff"/>
<rect x="97.7" y="1044.13" width="33.7" height="25.36" fill="#643bff"/>
<rect x="130.9" y="1044.13" width="33.7" height="25.36" fill="#5a34ff"/>
<rect x="164.1" y="1044.13" width="33.7" height="25.36" fill="#5a34ff"/>
<rect x="197.3" y="1044.13" width="33.7" height="25.36" fill="#5a34ff"/>
<rect x="230.5" y="1044.13" width="33.7" height="25.36" fill="#5a34ff"/>
<rect x="263.7" y="1044.13" width="33.7" height="25.36" fill="#5a34ff"/>
<rect x="296.9" y="1044.13" width="33.7" height="25.36" fill="#5a34ff"/>
<rect x="330.1" y="1044.13" width="33.7" height="25.36" fill="#f80000"/>
<rect x="363.3" y="1044.13" width="33.7" height="25.36" fill="#ff0000"/>
<rect x="396.5" y="1044.13" width="33.7" height="25.36" fill="#a80000"/>
<rect x="429.7" y="1044.13" width="33.7" height="25.36" fill="#f00000"/>
<rect x="64.5" y="1068.99" width="33.7" height="25.36" fill="#643bff"/>
<rect x="97.7" y="1068.99" width="33.7" height="25.36" fill="#170dff"/>
<rect x="130.9" y="1068.99" width="33.7" height="25.36" fill="#643bff"/>
<rect x="164.1" y="1068.99" width="33.7" height="25.36" fill="#4d2cff"/>
<rect x="197.3" y="1068.99" width="33.7" height="25.36" fill="#4d2cff"/>
<rect x="230.5" y="1068.99" width="33.7" height="25.36" fill="#5a34ff"/>
<rect x="263.7" y="1068.99" width="33.7" height="25.36" fill="#5a34ff"/>
<rect x="296.9" y="1068.99" width="33.7" height="25.36" fill="#5a34ff"/>
<rect x="330.1" y="1068.99" width="33.7" height="25.36" fill="#ff0000"/>
<rect x="363.3" y="1068.99" width="33.7" height="25.36" fill="#c40000"/>
<rect x="396.5" y="1068.99" width="33.7" height="25.36" fill="#c40000"/>
<rect x="429.7" y="1068.99" width="33.7" height="25.36" fill="#ff6242"/>
<rect x="64.5" y="1093.85" width="33.7" height="25.36" fill="#4024ff"/>
<rect x="97.7" y="1093.85" width="33.7" height="25.36" fill="#5a34ff"/>
<rect x="130.9" y="1093.85" width="33.7" height="25.36" fill="#0000ff"/>
<rect x="164.1" y="1093.85" width="33.7" height="25.36" fill="#3a20ff"/>
<rect x="197.3" y="1093.85" width="33.7" height="25.36" fill="#9264ff"/>
<rect x="230.5" y="1093.85" width="33.7" height="25.36" fill="#6a3fff"/>
<rect x="263.7" y="1093.85" width="33.7" height="25.36" fill="#784aff"/>
<rect x="296.9" y="1093.85" width="33.7" height="25.36" fill="#5a34ff"/>
<rect x="330.1" y="1093.85" width="33.7" height="25.36" fill="#ff4628"/>
<rect x="363.3" y="1093.85" width="33.7" height="25.36" fill="#d00000"/>
<rect x="396.5" y="1093.85" width="33.7" height="25.36" fill="#dc0000"/>
<rect x="429.7" y="1093.85" width="33.7" height="25.36" fill="#c40000"/>
<rect x="64.5" y="1118.71" width="33.7" height="25.36" fill="#a279ff"/>
<rect x="97.7" y="1118.71" width="33.7" height="25.36" fill="#b494ff"/>
<rect x="130.9" y="1118.71" width="33.7" height="25.36" fill="#c8b0ff"/>
<rect x="164.1" y="1118.71" width="33.7" height="25.36" fill="#bc9fff"/>
<rect x="197.3" y="1118.71" width="33.7" height="25.36" fill="#0000f0"/>
<rect x="230.5" y="1118.71" width="33.7" height="25.36" fill="#0000e6"/>
<rect x="263.7" y="1118.71" width="33.7" height="25.36" fill="#0000e6"/>
<rect x="296.9" y="1118.71" width="33.7" height="25.36" fill="#0000e6"/>
<rect x="330.1" y="1118.71" width="33.7" height="25.36" fill="#dc0000"/>
<rect x="363.3" y="1118.71" width="33.7" height="25.36" fill="#fc0000"/>
<rect x="396.5" y="1118.71" width="33.7" height="25.36" fill="#dc0000"/>
<rect x="429.7" y="1118.71" width="33.7" height="25.36" fill="#e60000"/>
<rect x="64.5" y="1143.57" width="33.7" height="25.36" fill="#a780ff"/>
<rect x="97.7" y="1143.57" width="33.7" height="25.36" fill="#9e72ff"/>
<rect x="130.9" y="1143.57" width="33.7" height="25.36" fill="#b494ff"/>
<rect x="164.1" y="1143.57" width="33.7" height="25.36" fill="#a780ff"/>
<rect x="197.3" y="1143.57" width="33.7" height="25.36" fill="#0000f0"/>
<rect x="230.5" y="1143.57" width="33.7" height="25.36" fill="#0000f8"/>
<rect x="263.7" y="1143.57" width="33.7" height="25.36" fill="#0000f0"/>
<rect x="296.9" y="1143.57" width="33.7" height="25.36" fill="#0000f0"/>
<rect x="330.1" y="1143.57" width="33.7" height="25.36" fill="#ff341a"/>
<rect x="363.3" y="1143.57" width="33.7" height="25.36" fill="#ff4628"/>
<rect x="396.5" y="1143.57" width="33.7" height="25.36" fill="#9c0000"/>
<rect x="429.7" y="1143.57" width="33.7" height="25.36" fill="#ff1006"/>
<rect x="64.5" y="1168.42" width="33.7" height="25.36" fill="#5a34ff"/>
<rect x="97.7" y="1168.42" width="33.7" height="25.36" fill="#643bff"/>
<rect x="130.9" y="1168.42" width="33.7" height="25.36" fill="#643bff"/>
<rect x="164.1" y="1168.42" width="33.7" height="25.36" fill="#5a34ff"/>
<rect x="197.3" y="1168.42" width="33.7" height="25.36" fill="#8152ff"/>
<rect x="230.5" y="1168.42" width="33.7" height="25.36" fill="#643bff"/>
<rect x="263.7" y="1168.42" width="33.7" height="25.36" fill="#7446ff"/>
<rect x="296.9" y="1168.42" width="33.7" height="25.36" fill="#7446ff"/>
<rect x="330.1" y="1168.42" width="33.7" height="25.36" fill="#fff5f0"/>
<rect x="363.3" y="1168.42" width="33.7" height="25.36" fill="#900000"/>
<rect x="396.5" y="1168.42" width="33.7" height="25.36" fill="#e60000"/>
<rect x="429.7" y="1168.42" width="33.7" height="25.36" fill="#ff4628"/>
<rect x="64.5" y="1193.28" width="33.7" height="25.36" fill="#0000c2"/>
<rect x="97.7" y="1193.28" width="33.7" height="25.36" fill="#0000cf"/>
<rect x="130.9" y="1193.28" width="33.7" height="25.36" fill="#0000dc"/>
<rect x="164.1" y="1193.28" width="33.7" height="25.36" fill="#4728ff"/>
<rect x="197.3" y="1193.28" width="33.7" height="25.36" fill="#ff4628"/>
<rect x="230.5" y="1193.28" width="33.7" height="25.36" fill="#dcccff"/>
<rect x="263.7" y="1193.28" width="33.7" height="25.36" fill="#e3d6ff"/>
<rect x="296.9" y="1193.28" width="33.7" height="25.36" fill="#ffeee6"/>
<rect x="330.1" y="1193.28" width="33.7" height="25.36" fill="#c8b0ff"/>
<rect x="363.3" y="1193.28" width="33.7" height="25.36" fill="#f00000"/>
<rect x="396.5" y="1193.28" width="33.7" height="25.36" fill="#900000"/>
<rect x="429.7" y="1193.28" width="33.7" height="25.36" fill="#ffeee6"/>
<rect x="64.5" y="1218.14" width="33.7" height="25.36" fill="#2e1aff"/>
<rect x="97.7" y="1218.14" width="33.7" height="25.36" fill="#4728ff"/>
<rect x="130.9" y="1218.14" width="33.7" height="25.36" fill="#0000c2"/>
<rect x="164.1" y="1218.14" width="33.7" height="25.36" fill="#9e72ff"/>
<rect x="197.3" y="1218.14" width="33.7" height="25.36" fill="#0000fc"/>
<rect x="230.5" y="1218.14" width="33.7" height="25.36" fill="#ffffff"/>
<rect x="263.7" y="1218.14" width="33.7" height="25.36" fill="#f5f0ff"/>
<rect x="296.9" y="1218.14" width="33.7" height="25.36" fill="#c8b0ff"/>
<rect x="330.1" y="1218.14" width="33.7" height="25.36" fill="#ffdccf"/>
<rect x="363.3" y="1218.14" width="33.7" height="25.36" fill="#ffdccf"/>
<rect x="396.5" y="1218.14" width="33.7" height="25.36" fill="#900000"/>
<rect x="429.7" y="1218.14" width="33.7" height="25.36" fill="#ff4628"/>
</g>
<path d="M64.5 99.5V1243M97.7 99.5V1243M130.9 99.5V1243M164.1 99.5V1243M197.3 99.5V1243M230.5 99.5V1243M263.7 99.5V1243M296.9 99.5V1243M330.1 99.5V1243M363.3 99.5V1243M396.5 99.5V1243M429.7 99.5V1243M462.9 99.5V1243M64.5 99.5H462.9M64.5 124.36H462.9M64.5 149.22H462.9M64.5 174.08H462.9M64.5 198.93H462.9M64.5 223.79H462.9M64.5 248.65H462.9M64.5 273.51H462.9M64.5 298.37H462.9M64.5 323.23H462.9M64.5 348.09H462.9M64.5 372.95H462.9M64.5 397.8H462.9M64.5 422.66H462.9M64.5 447.52H462.9M64.5 472.38H462.9M64.5 497.24H462.9M64.5 522.1H462.9M64.5 546.96H462.9M64.5 571.82H462.9M64.5 596.67H462.9M64.5 621.53H462.9M64.5 646.39H462.9M64.5 671.25H462.9M64.5 696.11H462.9M64.5 720.97H462.9M64.5 745.83H462.9M64.5 770.68H462.9M64.5 795.54H462.9M64.5 820.4H462.9M64.5 845.26H462.9M64.5 870.12H462.9M64.5 894.98H462.9M64.5 919.84H462.9M64.5 944.7H462.9M64.5 969.55H462.9M64.5 994.41H462.9M64.5 1019.27H462.9M64.5 1044.13H462.9M64.5 1068.99H462.9M64.5 1093.85H462.9M64.5 1118.71H462.9M64.5 1143.57H462.9M64.5 1168.42H462.9M64.5 1193.28H462.9M64.5 1218.14H462.9M64.5 1243H462.9" fill="none" stroke="#000" stroke-width="1.6" stroke-linecap="square"/>
<g font-style="italic" font-size="21.1">
<text x="474.1" y="120.63">CD22</text>
<text x="474.1" y="145.49">CCL24</text>
<text x="474.1" y="170.35">CD80</text>
<text x="474.1" y="195.21">PD-L1</text>
<text x="474.1" y="220.06">ARG1</text>
<text x="474.1" y="244.92">CCL12</text>
<text x="474.1" y="269.78">MMP8</text>
<text x="474.1" y="294.64">CCL7</text>
<text x="474.1" y="319.5">CCL9</text>
<text x="474.1" y="344.36">TGF-βi</text>
<text x="474.1" y="369.22">CCL17</text>
<text x="474.1" y="394.07">CCL6</text>
<text x="474.1" y="418.93">CCL2</text>
<text x="474.1" y="443.79">CD164</text>
<text x="474.1" y="468.65">IL-21R</text>
<text x="474.1" y="493.51">IL-1α</text>
<text x="474.1" y="518.37">CXCL3</text>
<text x="474.1" y="543.23">CXCL2</text>
<text x="474.1" y="568.09">VEGF-A</text>
<text x="474.1" y="592.94">IL-4RA</text>
<text x="474.1" y="617.8">CD300LF</text>
<text x="474.1" y="642.66">CCL3</text>
<text x="474.1" y="667.52">CD204</text>
<text x="474.1" y="692.38">CD33</text>
<text x="474.1" y="717.24">CD38</text>
<text x="474.1" y="742.1">CCL4</text>
<text x="474.1" y="766.96">CD24a</text>
<text x="474.1" y="791.81">CXCL14</text>
<text x="474.1" y="816.67">IL-1β</text>
<text x="474.1" y="841.53">CCL27a</text>
<text x="474.1" y="866.39">MMP13</text>
<text x="474.1" y="891.25">MMP19</text>
<text x="474.1" y="916.11">KLF4</text>
<text x="474.1" y="940.97">IL-1rl2</text>
<text x="474.1" y="965.83">IL-6st</text>
<text x="474.1" y="990.68">Chil4</text>
<text x="474.1" y="1015.54">Chil3</text>
<text x="474.1" y="1040.4">MGL2</text>
<text x="474.1" y="1065.26">Retnla</text>
<text x="474.1" y="1090.12">CD74</text>
<text x="474.1" y="1114.98">CD206</text>
<text x="474.1" y="1139.84">PPARγ</text>
<text x="474.1" y="1164.69">MGL1</text>
<text x="474.1" y="1189.55">IL-31ra</text>
<text x="474.1" y="1214.41">CCL22</text>
<text x="474.1" y="1239.27">IL-20rb</text>
</g>
<defs><linearGradient id="cb" x1="0" y1="0" x2="0" y2="1">
<stop offset="0.0403" stop-color="#900000"/><stop offset="0.0807" stop-color="#a80000"/><stop offset="0.1211" stop-color="#c40000"/><stop offset="0.1616" stop-color="#dc0000"/><stop offset="0.2020" stop-color="#f00000"/><stop offset="0.2424" stop-color="#ff0000"/><stop offset="0.2681" stop-color="#ff2810"/><stop offset="0.2939" stop-color="#ff4628"/><stop offset="0.3196" stop-color="#ff6242"/><stop offset="0.3453" stop-color="#ff7c5c"/><stop offset="0.3710" stop-color="#ff9478"/><stop offset="0.3967" stop-color="#ffac94"/><stop offset="0.4225" stop-color="#ffc6b2"/><stop offset="0.4482" stop-color="#ffdccf"/><stop offset="0.4739" stop-color="#ffeee6"/><stop offset="0.4996" stop-color="#ffffff"/><stop offset="0.5180" stop-color="#eee6ff"/><stop offset="0.5364" stop-color="#dcccff"/><stop offset="0.5548" stop-color="#c8b0ff"/><stop offset="0.5731" stop-color="#b494ff"/><stop offset="0.5915" stop-color="#9e72ff"/><stop offset="0.6099" stop-color="#8a5aff"/><stop offset="0.6283" stop-color="#7446ff"/><stop offset="0.6466" stop-color="#5a34ff"/><stop offset="0.6650" stop-color="#3a20ff"/><stop offset="0.6834" stop-color="#0000ff"/><stop offset="0.7385" stop-color="#0000f0"/><stop offset="0.7936" stop-color="#0000dc"/><stop offset="0.8488" stop-color="#0000c2"/><stop offset="0.9039" stop-color="#0000a6"/><stop offset="0.9590" stop-color="#00008b"/>
</linearGradient><filter id="cbf" x="-20%" y="-5%" width="140%" height="110%"><feGaussianBlur stdDeviation="0.7"/></filter></defs>
<rect x="557.3" y="99" width="29.2" height="141.5" rx="3" fill="url(#cb)" filter="url(#cbf)"/>
<path d="M558.5 104.7h6M579.5 104.7h6M558.5 137.2h6M579.5 137.2h6M558.5 169.7h6M579.5 169.7h6M558.5 202.2h6M579.5 202.2h6M558.5 234.7h6M579.5 234.7h6" fill="none" stroke="#fff" stroke-width="1.6" opacity="0.75"/>
<text x="605.6" y="113.6" font-size="24.4" text-anchor="middle">2</text>
<text x="605.6" y="146.1" font-size="24.4" text-anchor="middle">1</text>
<text x="605.6" y="178.6" font-size="24.4" text-anchor="middle">0</text>
<text x="605.6" y="211.1" font-size="24.4" text-anchor="middle">-1</text>
<text x="605.6" y="243.6" font-size="24.4" text-anchor="middle">-2</text>
</g>
<g id="panel-b">
<text x="672.6" y="31.4" font-size="40" font-weight="bold">b</text>
<rect x="1105.6" y="24.6" width="32.4" height="19.6" fill="#559dfb" stroke="#000" stroke-width="1.15"/>
<text x="1157.84" y="43.6" font-size="27.6" letter-spacing="2.6">M0</text>
<rect x="1249.8" y="24.6" width="32.4" height="19.6" fill="#fe8083" stroke="#000" stroke-width="1.15"/>
<text x="1302.18" y="43.6" font-size="27.6" letter-spacing="0.91">TAM</text>
<rect x="1406.8" y="24.6" width="32.4" height="19.6" fill="#c8dcf7" stroke="#000" stroke-width="1.15"/>
<text x="1456.94" y="43.6" font-size="27.6" letter-spacing="2.31">M2</text>
<g><path d="M882.7 332V327.47M875.1 327.47H890.3" fill="none" stroke="#000" stroke-width="2.4" /><rect x="866.4" y="332" width="32.6" height="82.3" fill="#559dfb" stroke="#000" stroke-width="1.15"/><path d="M932 270.27V260.81M924.4 260.81H939.6" fill="none" stroke="#000" stroke-width="2.4" /><rect x="915.7" y="270.27" width="32.6" height="144.03" fill="#fe8083" stroke="#000" stroke-width="1.15"/><path d="M981.2 340.23V339.24M973.6 339.24H988.8" fill="none" stroke="#000" stroke-width="2.4" /><rect x="964.9" y="340.23" width="32.6" height="74.07" fill="#c8dcf7" stroke="#000" stroke-width="1.15"/><path d="M850 415.62V166.08M826.8 332H850M826.8 249.7H850M826.8 167.4H850M837.6 373.15H850M837.6 290.85H850M837.6 208.55H850M826.8 414.3H1015.5" fill="none" stroke="#000" stroke-width="2.65" /><text x="819.4" y="424.4" font-size="28.4" text-anchor="end" letter-spacing="-0.4">0</text><text x="819.4" y="342.1" font-size="28.4" text-anchor="end" letter-spacing="-0.4">1</text><text x="819.4" y="259.8" font-size="28.4" text-anchor="end" letter-spacing="-0.4">2</text><text x="819.4" y="177.5" font-size="28.4" text-anchor="end" letter-spacing="-0.4">3</text><text x="888.92" y="106.8" font-size="28.6" font-style="italic" letter-spacing="-0.1">HIF-1α</text><path d="M883.5 165.8V157.4H981.4V166.6" fill="none" stroke="#000" stroke-width="2.6" /><text x="910.95" y="150" font-size="25.6" letter-spacing="-1.38">N.S.</text><path d="M882.7 203.9V195.5H931.4V204.7" fill="none" stroke="#000" stroke-width="2.6" /><text x="889.39" y="203.5" font-size="41" letter-spacing="2.99">**</text><text transform="translate(742.4 0) rotate(-90)" x="-356.21" y="0" font-size="29.4" letter-spacing="2.19">Relative</text><text transform="translate(778.2 0) rotate(-90)" x="-416.85" y="0" font-size="29.4" letter-spacing="0.41">mRNA expression</text></g>
<g><path d="M1150 332V328.3M1142.4 328.3H1157.6" fill="none" stroke="#000" stroke-width="2.4" /><rect x="1133.7" y="332" width="32.6" height="82.3" fill="#559dfb" stroke="#000" stroke-width="1.15"/><path d="M1199.3 243.94V236.53M1191.7 236.53H1206.9" fill="none" stroke="#000" stroke-width="2.4" /><rect x="1183" y="243.94" width="32.6" height="170.36" fill="#fe8083" stroke="#000" stroke-width="1.15"/><path d="M1248.5 345.58V332.41M1240.9 332.41H1256.1" fill="none" stroke="#000" stroke-width="2.4" /><rect x="1232.2" y="345.58" width="32.6" height="68.72" fill="#c8dcf7" stroke="#000" stroke-width="1.15"/><path d="M1117.3 415.62V166.08M1094.1 332H1117.3M1094.1 249.7H1117.3M1094.1 167.4H1117.3M1104.9 373.15H1117.3M1104.9 290.85H1117.3M1104.9 208.55H1117.3M1094.1 414.3H1282.8" fill="none" stroke="#000" stroke-width="2.65" /><text x="1086.7" y="424.4" font-size="28.4" text-anchor="end" letter-spacing="-0.4">0</text><text x="1086.7" y="342.1" font-size="28.4" text-anchor="end" letter-spacing="-0.4">1</text><text x="1086.7" y="259.8" font-size="28.4" text-anchor="end" letter-spacing="-0.4">2</text><text x="1086.7" y="177.5" font-size="28.4" text-anchor="end" letter-spacing="-0.4">3</text><text x="1161.92" y="106.8" font-size="28.6" font-style="italic" letter-spacing="1.6">CD80</text><path d="M1150.8 165.8V157.4H1248.7V166.6" fill="none" stroke="#000" stroke-width="2.6" /><text x="1178.25" y="150" font-size="25.6" letter-spacing="-1.38">N.S.</text><path d="M1150 203.9V195.5H1198.7V204.7" fill="none" stroke="#000" stroke-width="2.6" /><text x="1147.19" y="203.5" font-size="41" letter-spacing="3.02">***</text></g>
<g><path d="M1417.9 352.57V349.49M1410.3 349.49H1425.5" fill="none" stroke="#000" stroke-width="2.4" /><rect x="1401.6" y="352.57" width="32.6" height="61.73" fill="#559dfb" stroke="#000" stroke-width="1.15"/><path d="M1467.2 244.56V240.24M1459.6 240.24H1474.8" fill="none" stroke="#000" stroke-width="2.4" /><rect x="1450.9" y="244.56" width="32.6" height="169.74" fill="#fe8083" stroke="#000" stroke-width="1.15"/><path d="M1516.4 351.96V348.25M1508.8 348.25H1524" fill="none" stroke="#000" stroke-width="2.4" /><rect x="1500.1" y="351.96" width="32.6" height="62.34" fill="#c8dcf7" stroke="#000" stroke-width="1.15"/><path d="M1385.2 415.62V166.08M1362 352.57H1385.2M1362 290.85H1385.2M1362 229.12H1385.2M1362 167.4H1385.2M1372.8 383.44H1385.2M1372.8 321.71H1385.2M1372.8 259.99H1385.2M1372.8 198.26H1385.2M1362 414.3H1550.7" fill="none" stroke="#000" stroke-width="2.65" /><text x="1354.6" y="424.4" font-size="28.4" text-anchor="end" letter-spacing="-0.4">0</text><text x="1354.6" y="362.68" font-size="28.4" text-anchor="end" letter-spacing="-0.4">1</text><text x="1354.6" y="300.95" font-size="28.4" text-anchor="end" letter-spacing="-0.4">2</text><text x="1354.6" y="239.22" font-size="28.4" text-anchor="end" letter-spacing="-0.4">3</text><text x="1354.6" y="177.5" font-size="28.4" text-anchor="end" letter-spacing="-0.4">4</text><text x="1420.42" y="106.8" font-size="28.6" font-style="italic" letter-spacing="2.03">CD204</text><path d="M1418.7 165.8V157.4H1516.6V166.6" fill="none" stroke="#000" stroke-width="2.6" /><text x="1446.15" y="150" font-size="25.6" letter-spacing="-1.38">N.S.</text><path d="M1417.9 203.9V195.5H1466.6V204.7" fill="none" stroke="#000" stroke-width="2.6" /><text x="1415.09" y="203.5" font-size="41" letter-spacing="3.02">***</text></g>
<g><path d="M1687.1 373.56V368.62M1679.5 368.62H1694.7" fill="none" stroke="#000" stroke-width="2.4" /><rect x="1670.8" y="373.56" width="32.6" height="40.74" fill="#559dfb" stroke="#000" stroke-width="1.15"/><path d="M1736.4 272.74V261.63M1728.8 261.63H1744" fill="none" stroke="#000" stroke-width="2.4" /><rect x="1720.1" y="272.74" width="32.6" height="141.56" fill="#fe8083" stroke="#000" stroke-width="1.15"/><path d="M1785.6 373.56V371.09M1778 371.09H1793.2" fill="none" stroke="#000" stroke-width="2.4" /><rect x="1769.3" y="373.56" width="32.6" height="40.74" fill="#c8dcf7" stroke="#000" stroke-width="1.15"/><path d="M1654.4 415.62V166.08M1631.2 332H1654.4M1631.2 249.7H1654.4M1631.2 167.4H1654.4M1642 373.15H1654.4M1642 290.85H1654.4M1642 208.55H1654.4M1631.2 414.3H1819.9" fill="none" stroke="#000" stroke-width="2.65" /><text x="1623.8" y="424.4" font-size="28.4" text-anchor="end" letter-spacing="-0.4">0</text><text x="1623.8" y="342.1" font-size="28.4" text-anchor="end" letter-spacing="-0.4">2</text><text x="1623.8" y="259.8" font-size="28.4" text-anchor="end" letter-spacing="-0.4">4</text><text x="1623.8" y="177.5" font-size="28.4" text-anchor="end" letter-spacing="-0.4">6</text><text x="1698.31" y="106.8" font-size="28.6" font-style="italic" letter-spacing="1.51">ARG2</text><path d="M1687.9 165.8V157.4H1785.8V166.6" fill="none" stroke="#000" stroke-width="2.6" /><text x="1715.35" y="150" font-size="25.6" letter-spacing="-1.38">N.S.</text><path d="M1687.1 203.9V195.5H1735.8V204.7" fill="none" stroke="#000" stroke-width="2.6" /><text x="1693.79" y="203.5" font-size="41" letter-spacing="2.99">**</text></g>
<g><path d="M882.7 668.53V659.32M875.1 659.32H890.3" fill="none" stroke="#000" stroke-width="2.4" /><rect x="866.4" y="668.53" width="32.6" height="106.47" fill="#559dfb" stroke="#000" stroke-width="1.15"/><path d="M932 585.89V582.2M924.4 582.2H939.6" fill="none" stroke="#000" stroke-width="2.4" /><rect x="915.7" y="585.89" width="32.6" height="189.11" fill="#fe8083" stroke="#000" stroke-width="1.15"/><path d="M981.2 698.86V695.79M973.6 695.79H988.8" fill="none" stroke="#000" stroke-width="2.4" /><rect x="964.9" y="698.86" width="32.6" height="76.14" fill="#c8dcf7" stroke="#000" stroke-width="1.15"/><path d="M850 776.33V528.07M826.8 652.2H850M826.8 529.4H850M837.6 713.6H850M837.6 590.8H850M826.8 775H1015.5" fill="none" stroke="#000" stroke-width="2.65" /><text x="819.4" y="785.1" font-size="28.4" text-anchor="end" letter-spacing="-0.4">0</text><text x="819.4" y="662.3" font-size="28.4" text-anchor="end" letter-spacing="-0.4">1</text><text x="819.4" y="539.5" font-size="28.4" text-anchor="end" letter-spacing="-0.4">2</text><text x="877.13" y="468.4" font-size="28.6" font-style="italic" letter-spacing="1.29">VEGF-A</text><path d="M883.5 528V519.6H981.4V528.8" fill="none" stroke="#000" stroke-width="2.6" /><text x="925.29" y="527.6" font-size="41">*</text><path d="M882.7 566V557.6H931.4V566.8" fill="none" stroke="#000" stroke-width="2.6" /><text x="879.89" y="565.6" font-size="41" letter-spacing="3.02">***</text><text transform="translate(742.4 0) rotate(-90)" x="-717.51" y="0" font-size="29.4" letter-spacing="2.19">Relative</text><text transform="translate(778.2 0) rotate(-90)" x="-778.15" y="0" font-size="29.4" letter-spacing="0.41">mRNA expression</text></g>
<g><path d="M1149.2 765.01V761.3M1141.6 761.3H1156.8" fill="none" stroke="#000" stroke-width="2.4" /><rect x="1132.9" y="765.01" width="32.6" height="11.99" fill="#559dfb" stroke="#000" stroke-width="1.15"/><path d="M1198.5 637.95V616.32M1190.9 616.32H1206.1" fill="none" stroke="#000" stroke-width="2.4" /><rect x="1182.2" y="637.95" width="32.6" height="139.05" fill="#fe8083" stroke="#000" stroke-width="1.15"/><path d="M1247.7 769.58V766.12M1240.1 766.12H1255.3" fill="none" stroke="#000" stroke-width="2.4" /><rect x="1231.4" y="769.58" width="32.6" height="7.42" fill="#c8dcf7" stroke="#000" stroke-width="1.15"/><path d="M1116.5 778.33V528.47M1093.3 715.2H1116.5M1093.3 653.4H1116.5M1093.3 591.6H1116.5M1093.3 529.8H1116.5M1104.1 746.1H1116.5M1104.1 684.3H1116.5M1104.1 622.5H1116.5M1104.1 560.7H1116.5M1093.3 777H1282" fill="none" stroke="#000" stroke-width="2.65" /><text x="1085.9" y="787.1" font-size="28.4" text-anchor="end" letter-spacing="-0.4">0</text><text x="1085.9" y="725.3" font-size="28.4" text-anchor="end" letter-spacing="-0.4">5</text><text x="1085.9" y="663.5" font-size="28.4" text-anchor="end" letter-spacing="-0.4">10</text><text x="1085.9" y="601.7" font-size="28.4" text-anchor="end" letter-spacing="-0.4">15</text><text x="1085.9" y="539.9" font-size="28.4" text-anchor="end" letter-spacing="-0.4">20</text><text x="1164.37" y="468.4" font-size="28.6" font-style="italic" letter-spacing="0.25">IL-1β</text><path d="M1150 527.6V519.2H1247.9V528.4" fill="none" stroke="#000" stroke-width="2.6" /><text x="1177.45" y="511.8" font-size="25.6" letter-spacing="-1.38">N.S.</text><path d="M1149.2 566V557.6H1197.9V566.8" fill="none" stroke="#000" stroke-width="2.6" /><text x="1155.89" y="565.6" font-size="41" letter-spacing="2.99">**</text></g>
<g><path d="M1419.7 773.53V772.5M1412.1 772.5H1427.3" fill="none" stroke="#000" stroke-width="2.4" /><rect x="1403.4" y="773.53" width="32.6" height="3.47" fill="#559dfb" stroke="#000" stroke-width="1.15"/><path d="M1469 599.18V591.25M1461.4 591.25H1476.6" fill="none" stroke="#000" stroke-width="2.4" /><rect x="1452.7" y="707.7" width="32.6" height="69.3" fill="#fe8083"/><path d="M1452.7 707.7V777M1485.3 707.7V777" fill="none" stroke="#000" stroke-width="1.15" /><rect x="1452.7" y="599.18" width="32.6" height="81.22" fill="#fe8083"/><path d="M1452.7 680.4V599.18H1485.3V680.4" fill="none" stroke="#000" stroke-width="1.15" /><path d="M1518.2 724.33V722.25M1510.6 722.25H1525.8" fill="none" stroke="#000" stroke-width="2.4" /><rect x="1501.9" y="724.33" width="32.6" height="52.67" fill="#c8dcf7" stroke="#000" stroke-width="1.15"/><path d="M1387 778.33V706.38M1363.8 742.35H1387M1372.5 707.7H1401.5M1374.6 759.67H1387M1374.6 725.03H1387M1387 680.4V527.97M1372.5 680.4H1401.5M1363.8 604.85H1387M1363.8 529.3H1387M1374.6 642.62H1387M1374.6 567.07H1387M1363.8 777H1552.5" fill="none" stroke="#000" stroke-width="2.65" /><text x="1356.4" y="787.1" font-size="28.4" text-anchor="end" letter-spacing="-0.4">0</text><text x="1356.4" y="752.45" font-size="28.4" text-anchor="end" letter-spacing="-0.4">10</text><text x="1356.4" y="716.3" font-size="28.4" text-anchor="end" letter-spacing="-0.4">20</text><text x="1356.4" y="687.5" font-size="28.4" text-anchor="end" letter-spacing="-0.4">100</text><text x="1356.4" y="614.95" font-size="28.4" text-anchor="end" letter-spacing="-0.4">200</text><text x="1356.4" y="539.4" font-size="28.4" text-anchor="end" letter-spacing="-0.4">300</text><text x="1422.82" y="468.4" font-size="28.6" font-style="italic" letter-spacing="1.29">CCL17</text><path d="M1420.5 527.6V519.2H1518.4V528.4" fill="none" stroke="#000" stroke-width="2.6" /><text x="1442.29" y="527.2" font-size="41" letter-spacing="3.02">***</text><path d="M1419.7 566V557.6H1468.4V566.8" fill="none" stroke="#000" stroke-width="2.6" /><text x="1416.89" y="565.6" font-size="41" letter-spacing="3.02">***</text></g>
<g><path d="M1687.1 767.48V765.68M1679.5 765.68H1694.7" fill="none" stroke="#000" stroke-width="2.4" /><rect x="1670.8" y="767.48" width="32.6" height="8.12" fill="#559dfb" stroke="#000" stroke-width="1.15"/><path d="M1736.4 596.18V588.67M1728.8 588.67H1744" fill="none" stroke="#000" stroke-width="2.4" /><rect x="1720.1" y="730.5" width="32.6" height="45.1" fill="#fe8083"/><path d="M1720.1 730.5V775.6M1752.7 730.5V775.6" fill="none" stroke="#000" stroke-width="1.15" /><rect x="1720.1" y="596.18" width="32.6" height="93.32" fill="#fe8083"/><path d="M1720.1 689.5V596.18H1752.7V689.5" fill="none" stroke="#000" stroke-width="1.15" /><path d="M1785.6 643.38V639.62M1778 639.62H1793.2" fill="none" stroke="#000" stroke-width="2.4" /><rect x="1769.3" y="730.5" width="32.6" height="45.1" fill="#c8dcf7"/><path d="M1769.3 730.5V775.6M1801.9 730.5V775.6" fill="none" stroke="#000" stroke-width="1.15" /><rect x="1769.3" y="643.38" width="32.6" height="46.12" fill="#c8dcf7"/><path d="M1769.3 689.5V643.38H1801.9V689.5" fill="none" stroke="#000" stroke-width="1.15" /><path d="M1654.4 776.93V729.17M1639.9 730.5H1668.9M1642 753.05H1654.4M1654.4 689.5V527.27M1639.9 689.5H1668.9M1631.2 635.87H1654.4M1631.2 582.23H1654.4M1631.2 528.6H1654.4M1642 662.68H1654.4M1642 609.05H1654.4M1642 555.42H1654.4M1631.2 775.6H1819.9" fill="none" stroke="#000" stroke-width="2.65" /><text x="1623.8" y="785.7" font-size="28.4" text-anchor="end" letter-spacing="-0.4">0</text><text x="1623.8" y="739.1" font-size="28.4" text-anchor="end" letter-spacing="-0.4">5</text><text x="1623.8" y="698.1" font-size="28.4" text-anchor="end" letter-spacing="-0.4">50</text><text x="1623.8" y="645.97" font-size="28.4" text-anchor="end" letter-spacing="-0.4">100</text><text x="1623.8" y="592.33" font-size="28.4" text-anchor="end" letter-spacing="-0.4">150</text><text x="1623.8" y="538.7" font-size="28.4" text-anchor="end" letter-spacing="-0.4">200</text><text x="1697.41" y="468.4" font-size="28.6" font-style="italic" letter-spacing="1.51">ARG1</text><path d="M1687.9 527.2V518.8H1785.8V528" fill="none" stroke="#000" stroke-width="2.6" /><text x="1709.69" y="526.8" font-size="41" letter-spacing="3.02">***</text><path d="M1687.1 565.4V557H1735.8V566.2" fill="none" stroke="#000" stroke-width="2.6" /><text x="1684.29" y="565" font-size="41" letter-spacing="3.02">***</text></g>
<g><path d="M882.7 1105.15V1102.26M875.1 1102.26H890.3" fill="none" stroke="#000" stroke-width="2.4" /><rect x="866.4" y="1105.15" width="32.6" height="40.65" fill="#559dfb" stroke="#000" stroke-width="1.15"/><path d="M932 999.72V994.35M924.4 994.35H939.6" fill="none" stroke="#000" stroke-width="2.4" /><rect x="915.7" y="999.72" width="32.6" height="146.08" fill="#fe8083" stroke="#000" stroke-width="1.15"/><path d="M981.2 1061.62V1047.17M973.6 1047.17H988.8" fill="none" stroke="#000" stroke-width="2.4" /><rect x="964.9" y="1061.62" width="32.6" height="84.18" fill="#c8dcf7" stroke="#000" stroke-width="1.15"/><path d="M850 1147.12V896.88M826.8 1063.27H850M826.8 980.73H850M826.8 898.2H850M837.6 1104.53H850M837.6 1022H850M837.6 939.47H850M826.8 1145.8H1015.5" fill="none" stroke="#000" stroke-width="2.65" /><text x="819.4" y="1155.9" font-size="28.4" text-anchor="end" letter-spacing="-0.4">0</text><text x="819.4" y="1073.37" font-size="28.4" text-anchor="end" letter-spacing="-0.4">2</text><text x="819.4" y="990.83" font-size="28.4" text-anchor="end" letter-spacing="-0.4">4</text><text x="819.4" y="908.3" font-size="28.4" text-anchor="end" letter-spacing="-0.4">6</text><text x="888.92" y="837.8" font-size="28.6" font-style="italic" letter-spacing="1.18">PD-L1</text><path d="M883.5 897V888.6H981.4V897.8" fill="none" stroke="#000" stroke-width="2.6" /><text x="917.69" y="896.6" font-size="41">*</text><path d="M882.7 935.1V926.7H931.4V935.9" fill="none" stroke="#000" stroke-width="2.6" /><text x="879.89" y="934.7" font-size="41" letter-spacing="3.02">***</text><text transform="translate(742.4 0) rotate(-90)" x="-1087.61" y="0" font-size="29.4" letter-spacing="2.19">Relative</text><text transform="translate(778.2 0) rotate(-90)" x="-1148.25" y="0" font-size="29.4" letter-spacing="0.41">mRNA expression</text></g>
<g><path d="M1150 1128.95V1127.31M1142.4 1127.31H1157.6" fill="none" stroke="#000" stroke-width="2.4" /><rect x="1133.7" y="1128.95" width="32.6" height="15.25" fill="#559dfb" stroke="#000" stroke-width="1.15"/><path d="M1199.3 985.94V980.53M1191.7 980.53H1206.9" fill="none" stroke="#000" stroke-width="2.4" /><rect x="1183" y="985.94" width="32.6" height="158.26" fill="#fe8083" stroke="#000" stroke-width="1.15"/><path d="M1248.5 1029.89V1024.48M1240.9 1024.48H1256.1" fill="none" stroke="#000" stroke-width="2.4" /><rect x="1232.2" y="1029.89" width="32.6" height="114.31" fill="#c8dcf7" stroke="#000" stroke-width="1.15"/><path d="M1117.3 1145.53V896.88M1094.1 1062.2H1117.3M1094.1 980.2H1117.3M1094.1 898.2H1117.3M1104.9 1103.2H1117.3M1104.9 1021.2H1117.3M1104.9 939.2H1117.3M1094.1 1144.2H1282.8" fill="none" stroke="#000" stroke-width="2.65" /><text x="1086.7" y="1154.3" font-size="28.4" text-anchor="end" letter-spacing="-0.4">0</text><text x="1086.7" y="1072.3" font-size="28.4" text-anchor="end" letter-spacing="-0.4">5</text><text x="1086.7" y="990.3" font-size="28.4" text-anchor="end" letter-spacing="-0.4">10</text><text x="1086.7" y="908.3" font-size="28.4" text-anchor="end" letter-spacing="-0.4">15</text><text x="1152.62" y="837.8" font-size="28.6" font-style="italic" letter-spacing="1.58">CCL24</text><path d="M1150.8 897V888.6H1248.7V897.8" fill="none" stroke="#000" stroke-width="2.6" /><text x="1172.59" y="896.6" font-size="41" letter-spacing="3.02">***</text><path d="M1150 935.1V926.7H1198.7V935.9" fill="none" stroke="#000" stroke-width="2.6" /><text x="1147.19" y="934.7" font-size="41" letter-spacing="3.02">***</text></g>
<g><path d="M1418.9 1116.09V1113.3M1411.3 1113.3H1426.5" fill="none" stroke="#000" stroke-width="2.4" /><rect x="1402.6" y="1116.09" width="32.6" height="29.71" fill="#559dfb" stroke="#000" stroke-width="1.15"/><path d="M1468.2 1095.35V1091.33M1460.6 1091.33H1475.8" fill="none" stroke="#000" stroke-width="2.4" /><rect x="1451.9" y="1095.35" width="32.6" height="50.45" fill="#fe8083" stroke="#000" stroke-width="1.15"/><path d="M1517.4 973.1V968.77M1509.8 968.77H1525" fill="none" stroke="#000" stroke-width="2.4" /><rect x="1501.1" y="973.1" width="32.6" height="172.7" fill="#c8dcf7" stroke="#000" stroke-width="1.15"/><path d="M1386.2 1147.12V896.88M1363 1083.9H1386.2M1363 1022H1386.2M1363 960.1H1386.2M1363 898.2H1386.2M1373.8 1114.85H1386.2M1373.8 1052.95H1386.2M1373.8 991.05H1386.2M1373.8 929.15H1386.2M1363 1145.8H1551.7" fill="none" stroke="#000" stroke-width="2.65" /><text x="1355.6" y="1155.9" font-size="28.4" text-anchor="end" letter-spacing="-0.4">0</text><text x="1355.6" y="1094" font-size="28.4" text-anchor="end" letter-spacing="-0.4">2</text><text x="1355.6" y="1032.1" font-size="28.4" text-anchor="end" letter-spacing="-0.4">4</text><text x="1355.6" y="970.2" font-size="28.4" text-anchor="end" letter-spacing="-0.4">6</text><text x="1355.6" y="908.3" font-size="28.4" text-anchor="end" letter-spacing="-0.4">8</text><text x="1421.92" y="837.8" font-size="28.6" font-style="italic" letter-spacing="1.46">CD206</text><path d="M1419.7 897V888.6H1517.6V897.8" fill="none" stroke="#000" stroke-width="2.6" /><text x="1441.49" y="896.6" font-size="41" letter-spacing="3.02">***</text><path d="M1418.9 935.1V926.7H1467.6V935.9" fill="none" stroke="#000" stroke-width="2.6" /><text x="1425.59" y="934.7" font-size="41" letter-spacing="2.99">**</text></g>
<g><path d="M1687.1 1142.7V1141.62M1679.5 1141.62H1694.7" fill="none" stroke="#000" stroke-width="2.4" /><rect x="1670.8" y="1142.7" width="32.6" height="3.1" fill="#559dfb" stroke="#000" stroke-width="1.15"/><path d="M1736.4 1134.97V1133.11M1728.8 1133.11H1744" fill="none" stroke="#000" stroke-width="2.4" /><rect x="1720.1" y="1134.97" width="32.6" height="10.83" fill="#fe8083" stroke="#000" stroke-width="1.15"/><path d="M1785.6 927.29V916.77M1778 916.77H1793.2" fill="none" stroke="#000" stroke-width="2.4" /><rect x="1769.3" y="927.29" width="32.6" height="218.51" fill="#c8dcf7" stroke="#000" stroke-width="1.15"/><path d="M1654.4 1147.12V896.88M1631.2 1083.9H1654.4M1631.2 1022H1654.4M1631.2 960.1H1654.4M1631.2 898.2H1654.4M1642 1114.85H1654.4M1642 1052.95H1654.4M1642 991.05H1654.4M1642 929.15H1654.4M1631.2 1145.8H1819.9" fill="none" stroke="#000" stroke-width="2.65" /><text x="1623.8" y="1155.9" font-size="28.4" text-anchor="end" letter-spacing="-0.4">0</text><text x="1623.8" y="1094" font-size="28.4" text-anchor="end" letter-spacing="-0.4">20</text><text x="1623.8" y="1032.1" font-size="28.4" text-anchor="end" letter-spacing="-0.4">40</text><text x="1623.8" y="970.2" font-size="28.4" text-anchor="end" letter-spacing="-0.4">60</text><text x="1623.8" y="908.3" font-size="28.4" text-anchor="end" letter-spacing="-0.4">80</text><text x="1696.62" y="837.8" font-size="28.6" font-style="italic" letter-spacing="1.77">MGL2</text><path d="M1687.9 897V888.6H1785.8V897.8" fill="none" stroke="#000" stroke-width="2.6" /><text x="1709.69" y="896.6" font-size="41" letter-spacing="3.02">***</text><path d="M1687.1 935.1V926.7H1735.8V935.9" fill="none" stroke="#000" stroke-width="2.6" /><text x="1693.79" y="934.7" font-size="41" letter-spacing="2.99">**</text></g>
</g>
<g id="panel-c">
<defs>
<filter id="bl3" x="-50%" y="-50%" width="200%" height="200%" color-interpolation-filters="sRGB"><feGaussianBlur stdDeviation="3"/></filter><filter id="bl3_5" x="-50%" y="-50%" width="200%" height="200%" color-interpolation-filters="sRGB"><feGaussianBlur stdDeviation="3.5"/></filter><filter id="bl4" x="-50%" y="-50%" width="200%" height="200%" color-interpolation-filters="sRGB"><feGaussianBlur stdDeviation="4"/></filter><filter id="bl5" x="-50%" y="-50%" width="200%" height="200%" color-interpolation-filters="sRGB"><feGaussianBlur stdDeviation="5"/></filter><filter id="bl6" x="-50%" y="-50%" width="200%" height="200%" color-interpolation-filters="sRGB"><feGaussianBlur stdDeviation="6"/></filter><filter id="bl7" x="-50%" y="-50%" width="200%" height="200%" color-interpolation-filters="sRGB"><feGaussianBlur stdDeviation="7"/></filter><filter id="bl8" x="-50%" y="-50%" width="200%" height="200%" color-interpolation-filters="sRGB"><feGaussianBlur stdDeviation="8"/></filter>
</defs>
<text x="1.8" y="1423.6" font-size="40" font-weight="bold">c</text>
<text x="149.15" y="1471.5" font-size="28.6" letter-spacing="0.12">CM</text>
<text x="142.86" y="1512.2" font-size="28.6" letter-spacing="0.03">IL-4</text>
<text x="249.64" y="1477.3" font-size="46">-</text>
<text x="343.64" y="1480.03" font-size="41">+</text>
<text x="445.84" y="1477.3" font-size="46">-</text>
<text x="249.64" y="1515.8" font-size="46">-</text>
<text x="347.94" y="1515.8" font-size="46">-</text>
<text x="441.54" y="1518.53" font-size="41">+</text>
<rect x="79.7" y="1532.5" width="5.8" height="485.5" fill="#fe8083"/>
<rect x="64" y="1831.2" width="5.6" height="380.3" fill="#c1d9fa"/>
<text x="9" y="1768.1" font-size="28">TAM</text>
<text x="6.5" y="2027.8" font-size="28">M2</text>
<text x="104.65" y="1572.5" font-size="28.6" letter-spacing="0.23">HIF-1α</text>
<text x="118.85" y="1671.5" font-size="28.6" letter-spacing="0.48">CD80</text>
<text x="103.15" y="1789.2" font-size="28.6" letter-spacing="0.24">CD204</text>
<text x="114.54" y="1866.8" font-size="28.6" letter-spacing="0.19">ARG1</text>
<text x="109.55" y="1961" font-size="28.6" letter-spacing="0.59">PD-L1</text>
<text x="75.56" y="2063.7" font-size="28.6" letter-spacing="0.6">p-STAT6</text>
<text x="101.4" y="2131.2" font-size="28.6" letter-spacing="0.79">STAT6</text>
<text x="103.65" y="2194.2" font-size="28.6" letter-spacing="0.4">CD206</text>
<text x="126.04" y="2259" font-size="28.6" letter-spacing="0.56">Actin</text>
<clipPath id="bp1"><rect x="209.8" y="1532.5" width="291.2" height="58.2"/></clipPath>
<g clip-path="url(#bp1)">
<rect x="209.8" y="1532.5" width="291.2" height="58.2" fill="#c8c8c8"/>
<g filter="url(#bl6)">
<rect x="324" y="1516" width="62" height="90" rx="6" fill="rgba(0,0,0,0.13)"/>
</g>
<g filter="url(#bl8)">
<rect x="190" y="1585" width="330" height="34" rx="17" fill="rgba(0,0,0,0.1)"/>
<rect x="205" y="1570" width="70" height="30" rx="15" fill="rgba(0,0,0,0.04)"/>
</g>
<g filter="url(#bl3_5)">
<ellipse cx="231" cy="1560.3" rx="10" ry="4.4" fill="rgba(0,0,0,0.36)"/>
<ellipse cx="276" cy="1560.3" rx="9" ry="4.2" fill="rgba(0,0,0,0.24)"/>
<rect x="226" y="1557.8" width="56" height="5" rx="2.5" fill="rgba(0,0,0,0.1)"/>
<rect x="323" y="1556.5" width="60" height="8" rx="4" fill="rgba(0,0,0,0.66)"/>
<ellipse cx="334" cy="1560.5" rx="13" ry="6.5" fill="rgba(0,0,0,0.62)"/>
<ellipse cx="374" cy="1560.8" rx="13" ry="7.6" fill="rgba(0,0,0,0.95)"/>
</g>
<g filter="url(#bl6)">
<rect x="317" y="1550" width="72" height="22" rx="11" fill="rgba(0,0,0,0.1)"/>
</g>
<g filter="url(#bl3_5)">
<rect x="421" y="1557.05" width="64" height="6.5" rx="3.25" fill="rgba(0,0,0,0.24)"/>
<ellipse cx="430" cy="1560.3" rx="10" ry="4.4" fill="rgba(0,0,0,0.16)"/>
<ellipse cx="477" cy="1560" rx="10" ry="4.4" fill="rgba(0,0,0,0.16)"/>
</g>
</g>
<clipPath id="bp2"><rect x="209.8" y="1599.2" width="291.2" height="128.8"/></clipPath>
<g clip-path="url(#bp2)">
<rect x="209.8" y="1599.2" width="291.2" height="128.8" fill="#f0f0f0"/>
<g filter="url(#bl8)">
<rect x="190" y="1717" width="330" height="56" rx="28" fill="rgba(0,0,0,0.13)"/>
<rect x="231" y="1620" width="60" height="94" rx="22" fill="rgba(0,0,0,0.4)"/>
</g>
<g filter="url(#bl6)">
<ellipse cx="238" cy="1665" rx="10" ry="34" fill="rgba(0,0,0,0.42)"/>
<ellipse cx="286" cy="1665" rx="10" ry="36" fill="rgba(0,0,0,0.42)"/>
</g>
<g filter="url(#bl5)">
<ellipse cx="238" cy="1663" rx="8" ry="9" fill="rgba(0,0,0,0.3)"/>
<ellipse cx="286" cy="1664" rx="8" ry="9" fill="rgba(0,0,0,0.3)"/>
</g>
<g filter="url(#bl6)">
<rect x="230" y="1656" width="62" height="14" rx="7" fill="rgba(0,0,0,0.18)"/>
</g>
<g filter="url(#bl7)">
<rect x="327" y="1615" width="64" height="100" rx="22" fill="rgba(0,0,0,0.82)"/>
</g>
<g filter="url(#bl5)">
<ellipse cx="336" cy="1657" rx="12" ry="38" fill="rgba(0,0,0,1)"/>
<ellipse cx="384" cy="1662" rx="11" ry="40" fill="rgba(0,0,0,1)"/>
<rect x="339" y="1653" width="40" height="30" rx="15" fill="rgba(0,0,0,0.3)"/>
</g>
<g filter="url(#bl6)">
<rect x="329" y="1592" width="60" height="28" rx="14" fill="rgba(0,0,0,0.3)"/>
<rect x="329" y="1707" width="60" height="20" rx="10" fill="rgba(0,0,0,0.3)"/>
</g>
<g filter="url(#bl8)">
<rect x="424" y="1636" width="62" height="78" rx="22" fill="rgba(0,0,0,0.34)"/>
</g>
<g filter="url(#bl6)">
<ellipse cx="428" cy="1677" rx="10" ry="30" fill="rgba(0,0,0,0.36)"/>
<ellipse cx="483" cy="1669" rx="10" ry="34" fill="rgba(0,0,0,0.44)"/>
</g>
<g filter="url(#bl5)">
<ellipse cx="483.5" cy="1664" rx="8" ry="10" fill="rgba(0,0,0,0.22)"/>
</g>
<g filter="url(#bl6)">
<rect x="425" y="1659" width="60" height="14" rx="7" fill="rgba(0,0,0,0.12)"/>
</g>
</g>
<clipPath id="bp3"><rect x="209.8" y="1736.2" width="291.2" height="83.4"/></clipPath>
<g clip-path="url(#bp3)">
<rect x="209.8" y="1736.2" width="291.2" height="83.4" fill="#f2f2f2"/>
<g filter="url(#bl8)">
<rect x="190" y="1813" width="330" height="50" rx="25" fill="rgba(0,0,0,0.14)"/>
</g>
<g filter="url(#bl5)">
<rect x="230" y="1798" width="60" height="10" rx="5" fill="rgba(0,0,0,0.46)"/>
</g>
<g filter="url(#bl6)">
<rect x="229" y="1781" width="62" height="32" rx="8" fill="rgba(0,0,0,0.34)"/>
</g>
<g filter="url(#bl5)">
<rect x="230" y="1811" width="60" height="10" rx="5" fill="rgba(0,0,0,0.18)"/>
</g>
<g filter="url(#bl6)">
<rect x="321.5" y="1745" width="70" height="66" rx="12" fill="rgba(0,0,0,0.76)"/>
</g>
<g filter="url(#bl5)">
<rect x="323.5" y="1759" width="66" height="34" rx="17" fill="rgba(0,0,0,0.42)"/>
<rect x="323.5" y="1799" width="66" height="12" rx="6" fill="rgba(0,0,0,0.45)"/>
</g>
<g filter="url(#bl6)">
<rect x="322.5" y="1733" width="68" height="18" rx="9" fill="rgba(0,0,0,0.3)"/>
</g>
<g filter="url(#bl5)">
<rect x="322.5" y="1808" width="68" height="14" rx="7" fill="rgba(0,0,0,0.32)"/>
<rect x="422" y="1799.5" width="64" height="9" rx="4.5" fill="rgba(0,0,0,0.4)"/>
</g>
<g filter="url(#bl6)">
<rect x="422" y="1785" width="64" height="28" rx="14" fill="rgba(0,0,0,0.24)"/>
</g>
<g filter="url(#bl5)">
<rect x="424" y="1811" width="60" height="10" rx="5" fill="rgba(0,0,0,0.14)"/>
</g>
</g>
<clipPath id="bp4"><rect x="209.8" y="1828" width="291.2" height="58.8"/></clipPath>
<g clip-path="url(#bp4)">
<rect x="209.8" y="1828" width="291.2" height="58.8" fill="#eeeeee"/>
<g filter="url(#bl3_5)">
<rect x="225" y="1850.5" width="62" height="8" rx="4" fill="rgba(0,0,0,0.85)"/>
</g>
<g filter="url(#bl4)">
<rect x="225" y="1851" width="62" height="18" rx="6" fill="rgba(0,0,0,0.45)"/>
</g>
<g filter="url(#bl6)">
<rect x="221" y="1843" width="70" height="30" rx="15" fill="rgba(0,0,0,0.12)"/>
</g>
<g filter="url(#bl3)">
<rect x="317" y="1845.5" width="68" height="25" rx="9" fill="rgba(0,0,0,1)"/>
<rect x="315.5" y="1845.5" width="71" height="17" rx="7" fill="rgba(0,0,0,1)"/>
</g>
<g filter="url(#bl5)">
<rect x="313" y="1842" width="76" height="32" rx="10" fill="rgba(0,0,0,0.28)"/>
</g>
<g filter="url(#bl3)">
<rect x="411.5" y="1847.5" width="70" height="23" rx="9" fill="rgba(0,0,0,1)"/>
<rect x="409.5" y="1847.5" width="74" height="15" rx="7" fill="rgba(0,0,0,1)"/>
</g>
<g filter="url(#bl5)">
<rect x="406.5" y="1842" width="80" height="32" rx="10" fill="rgba(0,0,0,0.28)"/>
</g>
</g>
<clipPath id="bp5"><rect x="209.8" y="1895.5" width="291.2" height="116.5"/></clipPath>
<g clip-path="url(#bp5)">
<rect x="209.8" y="1895.5" width="291.2" height="116.5" fill="#c6c6c6"/>
<g filter="url(#bl5)">
<ellipse cx="231" cy="1960" rx="9" ry="10" fill="rgba(0,0,0,0.26)"/>
<ellipse cx="278.5" cy="1958" rx="9" ry="11" fill="rgba(0,0,0,0.28)"/>
<ellipse cx="231" cy="1981.5" rx="9" ry="9" fill="rgba(0,0,0,0.22)"/>
<ellipse cx="277.5" cy="1981.5" rx="9" ry="9" fill="rgba(0,0,0,0.26)"/>
</g>
<g filter="url(#bl8)">
<rect x="219" y="1945" width="70" height="50" rx="25" fill="rgba(0,0,0,0.05)"/>
</g>
<g filter="url(#bl3_5)">
<ellipse cx="329.5" cy="1938.5" rx="12.5" ry="28" fill="rgba(0,0,0,1)"/>
<ellipse cx="376.5" cy="1942" rx="11" ry="21" fill="rgba(0,0,0,1)"/>
<rect x="331" y="1931" width="44" height="22" rx="11" fill="rgba(0,0,0,1)"/>
<ellipse cx="341" cy="1940" rx="12" ry="23" fill="rgba(0,0,0,1)"/>
<ellipse cx="366" cy="1942" rx="10" ry="17" fill="rgba(0,0,0,1)"/>
</g>
<g filter="url(#bl6)">
<rect x="320" y="1904" width="66" height="56" rx="14" fill="rgba(0,0,0,0.32)"/>
</g>
<g filter="url(#bl5)">
<ellipse cx="330" cy="1978" rx="10" ry="14" fill="rgba(0,0,0,0.36)"/>
<ellipse cx="376" cy="1976" rx="10" ry="14" fill="rgba(0,0,0,0.32)"/>
</g>
<g filter="url(#bl6)">
<rect x="328" y="1965" width="50" height="20" rx="10" fill="rgba(0,0,0,0.12)"/>
</g>
<g filter="url(#bl3_5)">
<ellipse cx="425.5" cy="1967.5" rx="12" ry="23" fill="rgba(0,0,0,1)"/>
<ellipse cx="478" cy="1969" rx="11" ry="21" fill="rgba(0,0,0,1)"/>
<ellipse cx="437" cy="1966" rx="10" ry="18" fill="rgba(0,0,0,0.95)"/>
<ellipse cx="467" cy="1968" rx="9" ry="16" fill="rgba(0,0,0,0.9)"/>
<rect x="427" y="1955.5" width="50" height="11" rx="5.5" fill="rgba(0,0,0,0.78)"/>
<rect x="427" y="1972.5" width="50" height="11" rx="5.5" fill="rgba(0,0,0,0.75)"/>
<rect x="432" y="1962" width="40" height="14" rx="7" fill="rgba(0,0,0,0.62)"/>
</g>
<g filter="url(#bl6)">
<rect x="415" y="1942" width="74" height="52" rx="14" fill="rgba(0,0,0,0.3)"/>
</g>
</g>
<clipPath id="bp6"><rect x="209.8" y="2021.6" width="291.2" height="58.4"/></clipPath>
<g clip-path="url(#bp6)">
<rect x="209.8" y="2021.6" width="291.2" height="58.4" fill="#f4f4f4"/>
<g filter="url(#bl3)">
<rect x="419.07" y="2041.18" width="62.85" height="17.63" rx="8.81" fill="rgba(0,0,0,1)"/>
<ellipse cx="430.49" cy="2050" rx="14.49" ry="10.25" fill="rgba(0,0,0,1)"/>
<ellipse cx="470.51" cy="2050" rx="14.49" ry="10.25" fill="rgba(0,0,0,1)"/>
</g>
<g filter="url(#bl5)">
<rect x="411.5" y="2035.5" width="78" height="29" rx="14.5" fill="rgba(0,0,0,0.25)"/>
<rect x="417" y="2067" width="70" height="14" rx="7" fill="rgba(0,0,0,0.1)"/>
</g>
<g filter="url(#bl8)">
<rect x="270" y="2031" width="120" height="40" rx="20" fill="rgba(0,0,0,0.01)"/>
</g>
</g>
<clipPath id="bp7"><rect x="209.8" y="2088.4" width="291.2" height="58.2"/></clipPath>
<g clip-path="url(#bp7)">
<rect x="209.8" y="2088.4" width="291.2" height="58.2" fill="#ededed"/>
<g filter="url(#bl3)">
<rect x="226.88" y="2113.5" width="64.25" height="18" rx="9" fill="rgba(0,0,0,1)"/>
<ellipse cx="238.41" cy="2122.5" rx="14.91" ry="11.25" fill="rgba(0,0,0,1)"/>
<ellipse cx="279.59" cy="2122.5" rx="14.91" ry="11.25" fill="rgba(0,0,0,1)"/>
<rect x="320.8" y="2112.64" width="59.4" height="16.72" rx="8.36" fill="rgba(0,0,0,1)"/>
<ellipse cx="331.36" cy="2121" rx="13.86" ry="11" fill="rgba(0,0,0,1)"/>
<ellipse cx="369.64" cy="2121" rx="13.86" ry="11" fill="rgba(0,0,0,1)"/>
<rect x="410.27" y="2114.6" width="62.45" height="7.4" rx="3.7" fill="rgba(0,0,0,1)"/>
<ellipse cx="421" cy="2118.3" rx="13.5" ry="9.25" fill="rgba(0,0,0,1)"/>
<ellipse cx="462" cy="2118.3" rx="13.5" ry="9.25" fill="rgba(0,0,0,1)"/>
</g>
<g filter="url(#bl5)">
<rect x="219" y="2106.5" width="80" height="31" rx="15.5" fill="rgba(0,0,0,0.22)"/>
<rect x="312.5" y="2105.5" width="76" height="31" rx="15.5" fill="rgba(0,0,0,0.22)"/>
<rect x="403.5" y="2104.5" width="76" height="27" rx="13.5" fill="rgba(0,0,0,0.18)"/>
</g>
<g filter="url(#bl4)">
<rect x="227" y="2137" width="64" height="10" rx="5" fill="rgba(0,0,0,0.12)"/>
<rect x="320" y="2137" width="60" height="10" rx="5" fill="rgba(0,0,0,0.14)"/>
<rect x="412" y="2137" width="60" height="10" rx="5" fill="rgba(0,0,0,0.1)"/>
</g>
</g>
<clipPath id="bp8"><rect x="209.8" y="2155" width="291.2" height="58.2"/></clipPath>
<g clip-path="url(#bp8)">
<rect x="209.8" y="2155" width="291.2" height="58.2" fill="#ececec"/>
<g filter="url(#bl3_5)">
<rect x="231" y="2181" width="56" height="9" rx="4.5" fill="rgba(0,0,0,0.66)"/>
<ellipse cx="238.5" cy="2185.3" rx="9" ry="6" fill="rgba(0,0,0,0.78)"/>
<ellipse cx="280.5" cy="2185.8" rx="8.5" ry="5.6" fill="rgba(0,0,0,0.62)"/>
</g>
<g filter="url(#bl5)">
<rect x="225" y="2175.5" width="68" height="20" rx="10" fill="rgba(0,0,0,0.18)"/>
</g>
<g filter="url(#bl3_5)">
<rect x="319.5" y="2181.05" width="56" height="9.5" rx="4.75" fill="rgba(0,0,0,0.7)"/>
<ellipse cx="329.5" cy="2185.5" rx="10" ry="6.6" fill="rgba(0,0,0,0.92)"/>
<ellipse cx="367" cy="2186.2" rx="9" ry="5.8" fill="rgba(0,0,0,0.62)"/>
</g>
<g filter="url(#bl5)">
<rect x="313.5" y="2175.5" width="68" height="20" rx="10" fill="rgba(0,0,0,0.18)"/>
</g>
<g filter="url(#bl3_5)">
<rect x="407" y="2172.55" width="72" height="28.5" rx="14" fill="rgba(0,0,0,1)"/>
</g>
<g filter="url(#bl6)">
<rect x="400" y="2164" width="86" height="44" rx="14" fill="rgba(0,0,0,0.28)"/>
</g>
<g filter="url(#bl5)">
<rect x="408" y="2199" width="70" height="14" rx="7" fill="rgba(0,0,0,0.12)"/>
</g>
</g>
<clipPath id="bp9"><rect x="209.8" y="2221.7" width="291.2" height="58.1"/></clipPath>
<g clip-path="url(#bp9)">
<rect x="209.8" y="2221.7" width="291.2" height="58.1" fill="#f0f0f0"/>
<g filter="url(#bl3)">
<rect x="228.12" y="2244.12" width="66.75" height="15.75" rx="7.88" fill="rgba(0,0,0,1)"/>
<ellipse cx="240.62" cy="2252" rx="15.12" ry="8.75" fill="rgba(0,0,0,1)"/>
<ellipse cx="282.38" cy="2252" rx="15.12" ry="8.75" fill="rgba(0,0,0,1)"/>
<rect x="318.05" y="2245.02" width="64.9" height="14.96" rx="7.48" fill="rgba(0,0,0,1)"/>
<ellipse cx="330.2" cy="2252.5" rx="14.7" ry="8.5" fill="rgba(0,0,0,1)"/>
<ellipse cx="370.8" cy="2252.5" rx="14.7" ry="8.5" fill="rgba(0,0,0,1)"/>
<rect x="405.55" y="2242.85" width="67.9" height="15.3" rx="7.65" fill="rgba(0,0,0,1)"/>
<ellipse cx="418.33" cy="2250.5" rx="15.33" ry="8.5" fill="rgba(0,0,0,1)"/>
<ellipse cx="460.67" cy="2250.5" rx="15.33" ry="8.5" fill="rgba(0,0,0,1)"/>
</g>
<g filter="url(#bl5)">
<rect x="220.5" y="2239" width="82" height="26" rx="13" fill="rgba(0,0,0,0.2)"/>
<rect x="310.5" y="2239" width="80" height="26" rx="13" fill="rgba(0,0,0,0.2)"/>
<rect x="398.5" y="2237.5" width="82" height="26" rx="13" fill="rgba(0,0,0,0.2)"/>
</g>
</g>
</g>
<g id="panel-de">
<g><text x="672.5" y="1243.2" font-size="40" font-weight="bold">d</text>
<rect x="1216.4" y="1230.9" width="40" height="12.8" fill="#ff6666"/>
<text x="1264.5" y="1245.6" font-size="25">Up Count</text>
<rect x="1388.3" y="1230.9" width="39.6" height="12.8" fill="#66ff66"/>
<text x="1436.8" y="1245.6" font-size="25">Down Count</text>
<line x1="1591.6" y1="1237.2" x2="1633.6" y2="1237.2" stroke="#0000ff" stroke-width="2.5" />
<circle cx="1612.6" cy="1237.2" r="3.8" fill="#0000ff"/>
<text x="1643.4" y="1245.6" font-size="25">P-Value</text>
<text x="1800" y="1287.9" font-size="29" text-anchor="end">-log<tspan font-size="19" dy="6.5">10</tspan><tspan dy="-6.5">(P-value)</tspan></text>
<text x="1008" y="1315.5" font-size="33" text-anchor="middle">TAM</text>
<rect x="1149.6" y="1364.1" width="254.93" height="13.9" fill="#66ff66"/>
<rect x="1149.6" y="1378" width="529.47" height="13.7" fill="#ff6666"/>
<rect x="1149.6" y="1405.1" width="568.69" height="13.9" fill="#66ff66"/>
<rect x="1149.6" y="1419" width="627.52" height="13.7" fill="#ff6666"/>
<rect x="1149.6" y="1446.5" width="509.86" height="13.9" fill="#66ff66"/>
<rect x="1149.6" y="1460.4" width="529.47" height="13.7" fill="#ff6666"/>
<rect x="1149.6" y="1486.1" width="294.15" height="13.9" fill="#66ff66"/>
<rect x="1149.6" y="1500" width="529.47" height="13.7" fill="#ff6666"/>
<rect x="1149.6" y="1527.5" width="254.93" height="13.9" fill="#66ff66"/>
<rect x="1149.6" y="1541.4" width="352.98" height="13.7" fill="#ff6666"/>
<rect x="1149.6" y="1568.2" width="196.1" height="13.9" fill="#66ff66"/>
<rect x="1149.6" y="1582.1" width="333.37" height="13.7" fill="#ff6666"/>
<rect x="1149.6" y="1608.2" width="176.49" height="13.9" fill="#66ff66"/>
<rect x="1149.6" y="1622.1" width="156.88" height="13.7" fill="#ff6666"/>
<rect x="1149.6" y="1649.7" width="431.42" height="13.9" fill="#66ff66"/>
<rect x="1149.6" y="1663.6" width="549.08" height="13.7" fill="#ff6666"/>
<rect x="1149.6" y="1689.3" width="372.59" height="13.9" fill="#66ff66"/>
<rect x="1149.6" y="1703.2" width="549.08" height="13.7" fill="#ff6666"/>
<rect x="1149.6" y="1730.3" width="117.66" height="13.9" fill="#66ff66"/>
<rect x="1149.6" y="1744.2" width="313.76" height="13.7" fill="#ff6666"/>
<path d="M1778.7 1386L1591.6 1427L1570.9 1467.7L1428.9 1507.6L1376.3 1548.3L1264.8 1589.7L1260.4 1629.3L1197.9 1670.1L1197.9 1710L1178.6 1750.7" fill="none" stroke="#0000ff" stroke-width="2.5" stroke-linejoin="round"/>
<circle cx="1778.7" cy="1386" r="3.9" fill="#0000ff"/>
<circle cx="1591.6" cy="1427" r="3.9" fill="#0000ff"/>
<circle cx="1570.9" cy="1467.7" r="3.9" fill="#0000ff"/>
<circle cx="1428.9" cy="1507.6" r="3.9" fill="#0000ff"/>
<circle cx="1376.3" cy="1548.3" r="3.9" fill="#0000ff"/>
<circle cx="1264.8" cy="1589.7" r="3.9" fill="#0000ff"/>
<circle cx="1260.4" cy="1629.3" r="3.9" fill="#0000ff"/>
<circle cx="1197.9" cy="1670.1" r="3.9" fill="#0000ff"/>
<circle cx="1197.9" cy="1710" r="3.9" fill="#0000ff"/>
<circle cx="1178.6" cy="1750.7" r="3.9" fill="#0000ff"/>
<rect x="1149.6" y="1346" width="658.9" height="432" fill="none" stroke="#1a1a1a" stroke-width="1.5"/>
<text x="1211.3" y="1331" font-size="26.8" text-anchor="middle">8</text>
<text x="1293.8" y="1331" font-size="26.8" text-anchor="middle">9</text>
<text x="1373.7" y="1331" font-size="26.8" text-anchor="middle">10</text>
<text x="1455.4" y="1331" font-size="26.8" text-anchor="middle">11</text>
<text x="1536.1" y="1331" font-size="26.8" text-anchor="middle">12</text>
<text x="1617" y="1331" font-size="26.8" text-anchor="middle">13</text>
<text x="1699.5" y="1331" font-size="26.8" text-anchor="middle">14</text>
<text x="1779.8" y="1331" font-size="26.8" text-anchor="middle">15</text>
<text x="1149.6" y="1820.6" font-size="26.8" text-anchor="middle">0</text>
<text x="1247.65" y="1820.6" font-size="26.8" text-anchor="middle">5</text>
<text x="1345.7" y="1820.6" font-size="26.8" text-anchor="middle">10</text>
<text x="1443.75" y="1820.6" font-size="26.8" text-anchor="middle">15</text>
<text x="1541.8" y="1820.6" font-size="26.8" text-anchor="middle">20</text>
<text x="1639.85" y="1820.6" font-size="26.8" text-anchor="middle">25</text>
<text x="1737.9" y="1820.6" font-size="26.8" text-anchor="middle">30</text>
<path d="M1142.6 1370.7H1149.6M1142.6 1411.7H1149.6M1142.6 1453.1H1149.6M1142.6 1492.7H1149.6M1142.6 1534.1H1149.6M1142.6 1574.8H1149.6M1142.6 1614.8H1149.6M1142.6 1656.3H1149.6M1142.6 1695.9H1149.6M1142.6 1736.9H1149.6M1211.3 1339.5V1346M1293.8 1339.5V1346M1373.7 1339.5V1346M1455.4 1339.5V1346M1536.1 1339.5V1346M1617 1339.5V1346M1699.5 1339.5V1346M1779.8 1339.5V1346M1149.6 1778V1784.5M1247.65 1778V1784.5M1345.7 1778V1784.5M1443.75 1778V1784.5M1541.8 1778V1784.5M1639.85 1778V1784.5M1737.9 1778V1784.5" fill="none" stroke="#1a1a1a" stroke-width="1.5" />
<text x="1133.3" y="1378.2" font-size="21.5" text-anchor="end">Positive regulation of cell migration</text>
<text x="1133.3" y="1418.8" font-size="21.5" text-anchor="end">Negative regulation of apoptotic process</text>
<text x="1133.3" y="1459.8" font-size="21.5" text-anchor="end">Immune system process</text>
<text x="1133.3" y="1499.4" font-size="21.5" text-anchor="end">Inflammatory response</text>
<text x="1133.3" y="1537" font-size="21.5" text-anchor="end">Positive regulation of ERK1 and ERK2 cascade</text>
<text x="1133.3" y="1578.8" font-size="21.5" text-anchor="end">Response of hypoxia</text>
<text x="1133.3" y="1610.4" font-size="21.5" text-anchor="end">Positive regulation of</text>
<text x="1133.3" y="1631.5" font-size="21.5" text-anchor="end">phosphatidylinositol 3-kinase signaling</text>
<text x="1133.3" y="1663.6" font-size="21.5" text-anchor="end">Positive regulation of cell proliferation</text>
<text x="1133.3" y="1702.8" font-size="21.5" text-anchor="end">Positive regulation of gene expression</text>
<text x="1133.3" y="1743.5" font-size="21.5" text-anchor="end">Regulation of cell shape</text>
<text x="1800" y="1854.2" font-size="29" text-anchor="end">Count of Gene</text></g>
<g><text x="673.8" y="1895.8" font-size="40" font-weight="bold">e</text>
<rect x="1216.4" y="1885.3" width="40" height="12.8" fill="#ff6666"/>
<text x="1264.5" y="1900" font-size="25">Up Count</text>
<rect x="1388.3" y="1885.3" width="39.6" height="12.8" fill="#66ff66"/>
<text x="1436.8" y="1900" font-size="25">Down Count</text>
<line x1="1591.6" y1="1891.6" x2="1633.6" y2="1891.6" stroke="#0000ff" stroke-width="2.5" />
<circle cx="1612.6" cy="1891.6" r="3.8" fill="#0000ff"/>
<text x="1643.4" y="1900" font-size="25">P-Value</text>
<text x="1800" y="1942.8" font-size="29" text-anchor="end">-log<tspan font-size="19" dy="6.5">10</tspan><tspan dy="-6.5">(P-value)</tspan></text>
<text x="1008" y="1976.6" font-size="33" text-anchor="middle">M2</text>
<rect x="1149.2" y="2017" width="627.44" height="13.9" fill="#66ff66"/>
<rect x="1149.2" y="2030.9" width="546.48" height="13.7" fill="#ff6666"/>
<rect x="1149.2" y="2057.7" width="526.24" height="13.9" fill="#66ff66"/>
<rect x="1149.2" y="2071.6" width="364.32" height="13.7" fill="#ff6666"/>
<rect x="1149.2" y="2098" width="404.8" height="13.9" fill="#66ff66"/>
<rect x="1149.2" y="2111.9" width="263.12" height="13.7" fill="#ff6666"/>
<rect x="1149.2" y="2137.6" width="445.28" height="13.9" fill="#66ff66"/>
<rect x="1149.2" y="2151.5" width="384.56" height="13.7" fill="#ff6666"/>
<rect x="1149.2" y="2177.9" width="283.36" height="13.9" fill="#66ff66"/>
<rect x="1149.2" y="2191.8" width="242.88" height="13.7" fill="#ff6666"/>
<rect x="1149.2" y="2218.6" width="202.4" height="13.9" fill="#66ff66"/>
<rect x="1149.2" y="2232.5" width="222.64" height="13.7" fill="#ff6666"/>
<rect x="1149.2" y="2257.8" width="20.24" height="13.9" fill="#66ff66"/>
<rect x="1149.2" y="2271.7" width="161.92" height="13.7" fill="#ff6666"/>
<rect x="1149.2" y="2298.5" width="242.88" height="13.9" fill="#66ff66"/>
<rect x="1149.2" y="2312.4" width="121.44" height="13.7" fill="#ff6666"/>
<rect x="1149.2" y="2337.3" width="60.72" height="13.9" fill="#66ff66"/>
<rect x="1149.2" y="2351.2" width="80.96" height="13.7" fill="#ff6666"/>
<rect x="1149.2" y="2377.7" width="80.96" height="13.9" fill="#66ff66"/>
<rect x="1149.2" y="2391.6" width="80.96" height="13.7" fill="#ff6666"/>
<path d="M1778.7 2037.4L1565.1 2078.1L1444.6 2118.8L1321.1 2158L1269.1 2198.7L1257.5 2239L1224.8 2278.6L1195.7 2319.3L1187.4 2358.5L1178.3 2398.8" fill="none" stroke="#0000ff" stroke-width="2.5" stroke-linejoin="round"/>
<circle cx="1778.7" cy="2037.4" r="3.9" fill="#0000ff"/>
<circle cx="1565.1" cy="2078.1" r="3.9" fill="#0000ff"/>
<circle cx="1444.6" cy="2118.8" r="3.9" fill="#0000ff"/>
<circle cx="1321.1" cy="2158" r="3.9" fill="#0000ff"/>
<circle cx="1269.1" cy="2198.7" r="3.9" fill="#0000ff"/>
<circle cx="1257.5" cy="2239" r="3.9" fill="#0000ff"/>
<circle cx="1224.8" cy="2278.6" r="3.9" fill="#0000ff"/>
<circle cx="1195.7" cy="2319.3" r="3.9" fill="#0000ff"/>
<circle cx="1187.4" cy="2358.5" r="3.9" fill="#0000ff"/>
<circle cx="1178.3" cy="2398.8" r="3.9" fill="#0000ff"/>
<rect x="1149.2" y="1998.4" width="659.3" height="425.8" fill="none" stroke="#1a1a1a" stroke-width="1.5"/>
<text x="1235" y="1984.5" font-size="26.8" text-anchor="middle">8</text>
<text x="1327.6" y="1984.5" font-size="26.8" text-anchor="middle">10</text>
<text x="1419.9" y="1984.5" font-size="26.8" text-anchor="middle">12</text>
<text x="1512.5" y="1984.5" font-size="26.8" text-anchor="middle">14</text>
<text x="1603.3" y="1984.5" font-size="26.8" text-anchor="middle">16</text>
<text x="1695.2" y="1984.5" font-size="26.8" text-anchor="middle">18</text>
<text x="1787.8" y="1984.5" font-size="26.8" text-anchor="middle">20</text>
<text x="1149.2" y="2464" font-size="26.8" text-anchor="middle">0</text>
<text x="1250.4" y="2464" font-size="26.8" text-anchor="middle">5</text>
<text x="1351.6" y="2464" font-size="26.8" text-anchor="middle">10</text>
<text x="1452.8" y="2464" font-size="26.8" text-anchor="middle">15</text>
<text x="1554" y="2464" font-size="26.8" text-anchor="middle">20</text>
<text x="1655.2" y="2464" font-size="26.8" text-anchor="middle">25</text>
<text x="1756.4" y="2464" font-size="26.8" text-anchor="middle">30</text>
<path d="M1142.2 2023.6H1149.2M1142.2 2064.3H1149.2M1142.2 2104.6H1149.2M1142.2 2144.2H1149.2M1142.2 2184.5H1149.2M1142.2 2225.2H1149.2M1142.2 2264.4H1149.2M1142.2 2305.1H1149.2M1142.2 2343.9H1149.2M1142.2 2384.3H1149.2M1235 1991.9V1998.4M1327.6 1991.9V1998.4M1419.9 1991.9V1998.4M1512.5 1991.9V1998.4M1603.3 1991.9V1998.4M1695.2 1991.9V1998.4M1787.8 1991.9V1998.4M1149.2 2424.2V2430.7M1250.4 2424.2V2430.7M1351.6 2424.2V2430.7M1452.8 2424.2V2430.7M1554 2424.2V2430.7M1655.2 2424.2V2430.7M1756.4 2424.2V2430.7" fill="none" stroke="#1a1a1a" stroke-width="1.5" />
<text x="1128.2" y="2029.8" font-size="21.5" text-anchor="end">Immune system process</text>
<text x="1128.2" y="2070.1" font-size="21.5" text-anchor="end">Inflammatory response</text>
<text x="1128.2" y="2110.7" font-size="21.5" text-anchor="end">Positive regulation of cell migration</text>
<text x="1128.2" y="2150.7" font-size="21.5" text-anchor="end">Immune response</text>
<text x="1128.2" y="2190.6" font-size="21.5" text-anchor="end">Positive regulation of ERK1 and ERK2 cascade</text>
<text x="1128.2" y="2228.8" font-size="21.5" text-anchor="end">Regulation of cell shape</text>
<text x="1128.2" y="2259.6" font-size="21.5" text-anchor="end">Processing and presentation of exogenous</text>
<text x="1128.2" y="2281.4" font-size="21.5" text-anchor="end">peptide antigen via MHC class 2</text>
<text x="1128.2" y="2309.4" font-size="21.5" text-anchor="end">Chemotaxis</text>
<text x="1128.2" y="2342.4" font-size="21.5" text-anchor="end">Processing and presentation of exogenous</text>
<text x="1128.2" y="2363.8" font-size="21.5" text-anchor="end">peptide antigen via MHC class 1</text>
<text x="1128.2" y="2394" font-size="21.5" text-anchor="end">Antifungal innate immune response</text>
<text x="1800" y="2495.8" font-size="29" text-anchor="end">Count of Gene</text></g>
</g>
</svg>
</body>
</html>
